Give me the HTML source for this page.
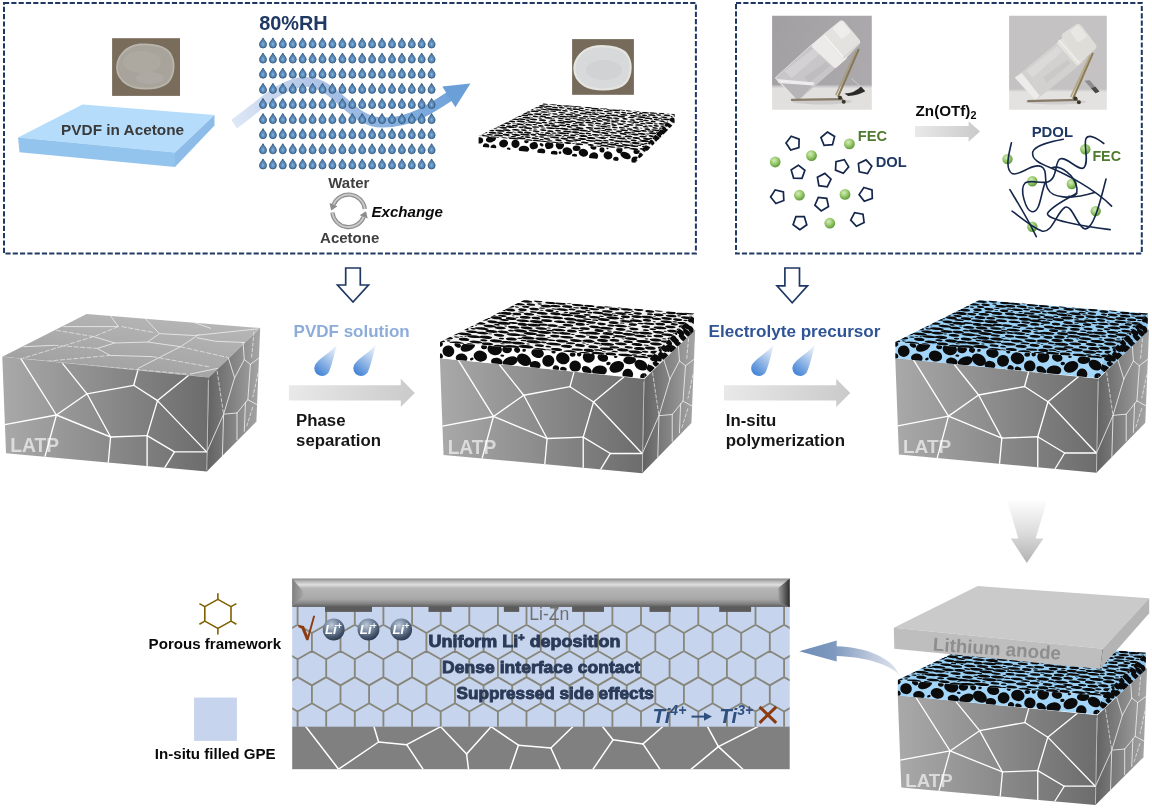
<!DOCTYPE html>
<html><head><meta charset="utf-8"><title>LATP interface schematic</title>
<style>
html,body{margin:0;padding:0;background:#fff;}
body{width:1152px;height:808px;overflow:hidden;}
svg{display:block;will-change:transform;}
text{font-family:"Liberation Sans",sans-serif;}
.b{font-weight:bold;}
.i{font-style:italic;}
</style></head><body>
<svg width="1152" height="808" viewBox="0 0 1152 808">
<defs>
<filter id="fB" x="-5%" y="-5%" width="110%" height="110%"><feGaussianBlur stdDeviation="0.7"/></filter>
<filter id="fB2" x="-5%" y="-5%" width="110%" height="110%"><feGaussianBlur stdDeviation="1.1"/></filter>
<linearGradient id="gFront" x1="0" y1="0" x2="1" y2="0"><stop offset="0" stop-color="#a9a9a9"/><stop offset="0.45" stop-color="#8e8e8e"/><stop offset="1" stop-color="#6c6c6c"/></linearGradient>
<linearGradient id="gTop" x1="0" y1="1" x2="0.6" y2="0"><stop offset="0" stop-color="#9c9c9c"/><stop offset="1" stop-color="#b6b6b6"/></linearGradient>
<linearGradient id="gRight" x1="0" y1="0" x2="1" y2="0"><stop offset="0" stop-color="#626262"/><stop offset="0.5" stop-color="#848484"/><stop offset="1" stop-color="#a6a6a6"/></linearGradient>
<linearGradient id="gArr" x1="0" y1="0" x2="1" y2="0"><stop offset="0" stop-color="#e9e9e9"/><stop offset="1" stop-color="#cacaca"/></linearGradient>
<linearGradient id="gWave" gradientUnits="userSpaceOnUse" x1="232" y1="0" x2="470" y2="0"><stop offset="0" stop-color="#dfe8f6"/><stop offset="0.35" stop-color="#aec3e6"/><stop offset="0.7" stop-color="#85afe0"/><stop offset="1" stop-color="#6a9fd8"/></linearGradient>
<linearGradient id="gDrop" x1="0.85" y1="0" x2="0.25" y2="1"><stop offset="0" stop-color="#eef4fb"/><stop offset="0.35" stop-color="#b9d0ee"/><stop offset="1" stop-color="#4484d6"/></linearGradient>
<radialGradient id="gGreen" cx="0.4" cy="0.35" r="0.65"><stop offset="0" stop-color="#d4ecbc"/><stop offset="0.5" stop-color="#9ccc70"/><stop offset="1" stop-color="#5f9a3a"/></radialGradient>
<radialGradient id="gLi" cx="0.4" cy="0.3" r="0.75"><stop offset="0" stop-color="#c0cbda"/><stop offset="0.4" stop-color="#7a8ca4"/><stop offset="0.8" stop-color="#3d4d63"/><stop offset="1" stop-color="#27364a"/></radialGradient>
<radialGradient id="gSmall" cx="0.5" cy="0.62" r="0.5"><stop offset="0" stop-color="#8db9e0"/><stop offset="0.45" stop-color="#5b8dbe"/><stop offset="1" stop-color="#4a7aad"/></radialGradient>
<linearGradient id="gBar" x1="0" y1="0" x2="0" y2="1"><stop offset="0" stop-color="#888888"/><stop offset="0.1" stop-color="#b6b6b6"/><stop offset="0.22" stop-color="#e0e0e0"/><stop offset="0.34" stop-color="#b6b6b6"/><stop offset="0.72" stop-color="#a8a8a8"/><stop offset="0.88" stop-color="#858585"/><stop offset="1" stop-color="#5c5c5c"/></linearGradient>
<linearGradient id="gDown" x1="0" y1="0" x2="0" y2="1"><stop offset="0" stop-color="#ffffff"/><stop offset="0.5" stop-color="#dedede"/><stop offset="1" stop-color="#b2b2b2"/></linearGradient>
<linearGradient id="gCurve" gradientUnits="userSpaceOnUse" x1="799" y1="0" x2="899" y2="0"><stop offset="0" stop-color="#6d8cb6"/><stop offset="0.35" stop-color="#7e99bf"/><stop offset="0.7" stop-color="#b8c5da"/><stop offset="1" stop-color="#dfe5ee"/></linearGradient>
<linearGradient id="gSlabTop" x1="0" y1="1" x2="0.5" y2="0"><stop offset="0" stop-color="#c9c9c9"/><stop offset="1" stop-color="#d0d0d0"/></linearGradient>
</defs>
<rect x="4" y="2.9" width="691.9" height="250.7" fill="none" stroke="#1f3864" stroke-width="2" stroke-dasharray="5.2 2.1"/>
<rect x="112.1" y="38.2" width="67.9" height="57.7" fill="#796c5b"/>
<g filter="url(#fB)"><path d="M117,67.5 C117,57.6 125,45.9 139.8,44.5 C152.3,43.6 167.2,45.9 171.2,55.3 C175.7,64.3 174,79.2 164.9,84.6 C155.8,90 136.4,90 127.3,84.6 C120.4,80.1 117,74.7 117,67.5Z" fill="#a8a49c" stroke="#b9b5ac" stroke-width="1.8"/><ellipse cx="142" cy="62" rx="19" ry="11" fill="#b1ada5" opacity="0.6"/><ellipse cx="150" cy="78" rx="14" ry="6" fill="#b4b0a9" opacity="0.5"/></g>
<polygon points="18,137.5 82.5,104.5 214.5,115 175,152.5" fill="#b5dcfb"/>
<polygon points="18,137.5 175,152.5 175,167 19.5,152.3" fill="#93c4ee"/>
<polygon points="175,152.5 214.5,115 214.5,125.5 175,167" fill="#8ebce9"/>
<text x="61.1" y="135" font-size="15.35" fill="#3a3a3a" class="b" >PVDF in Acetone</text>
<text x="259.2" y="29.8" font-size="19.9" fill="#1f3864" class="b" >80%RH</text>
<path d="M234,124 C258,108 280,82 306,82 C336,82 350,122 382,122.6 C410,123 432,108 450,96" fill="none" stroke="url(#gWave)" stroke-width="10"/>
<polygon points="470.4,83.6 442.3,86.6 455.4,107.2" fill="#6a9fd8"/>
<defs><path id="sd" d="M0,-6.3 C0.9,-4 3.5,-2.4 3.5,0.3 A3.5,3.5 0 1 1 -3.5,0.3 C-3.5,-2.4 -0.9,-4 0,-6.3Z" fill="url(#gSmall)" stroke="#30506f" stroke-width="0.8"/></defs>
<g><use href="#sd" x="263" y="44.2"/><use href="#sd" x="272.9" y="44.2"/><use href="#sd" x="282.8" y="44.2"/><use href="#sd" x="292.8" y="44.2"/><use href="#sd" x="302.7" y="44.2"/><use href="#sd" x="312.6" y="44.2"/><use href="#sd" x="322.5" y="44.2"/><use href="#sd" x="332.4" y="44.2"/><use href="#sd" x="342.4" y="44.2"/><use href="#sd" x="352.3" y="44.2"/><use href="#sd" x="362.2" y="44.2"/><use href="#sd" x="372.1" y="44.2"/><use href="#sd" x="382" y="44.2"/><use href="#sd" x="392" y="44.2"/><use href="#sd" x="401.9" y="44.2"/><use href="#sd" x="411.8" y="44.2"/><use href="#sd" x="421.7" y="44.2"/><use href="#sd" x="431.6" y="44.2"/><use href="#sd" x="263" y="59.3"/><use href="#sd" x="272.9" y="59.3"/><use href="#sd" x="282.8" y="59.3"/><use href="#sd" x="292.8" y="59.3"/><use href="#sd" x="302.7" y="59.3"/><use href="#sd" x="312.6" y="59.3"/><use href="#sd" x="322.5" y="59.3"/><use href="#sd" x="332.4" y="59.3"/><use href="#sd" x="342.4" y="59.3"/><use href="#sd" x="352.3" y="59.3"/><use href="#sd" x="362.2" y="59.3"/><use href="#sd" x="372.1" y="59.3"/><use href="#sd" x="382" y="59.3"/><use href="#sd" x="392" y="59.3"/><use href="#sd" x="401.9" y="59.3"/><use href="#sd" x="411.8" y="59.3"/><use href="#sd" x="421.7" y="59.3"/><use href="#sd" x="431.6" y="59.3"/><use href="#sd" x="263" y="74.4"/><use href="#sd" x="272.9" y="74.4"/><use href="#sd" x="282.8" y="74.4"/><use href="#sd" x="292.8" y="74.4"/><use href="#sd" x="302.7" y="74.4"/><use href="#sd" x="312.6" y="74.4"/><use href="#sd" x="322.5" y="74.4"/><use href="#sd" x="332.4" y="74.4"/><use href="#sd" x="342.4" y="74.4"/><use href="#sd" x="352.3" y="74.4"/><use href="#sd" x="362.2" y="74.4"/><use href="#sd" x="372.1" y="74.4"/><use href="#sd" x="382" y="74.4"/><use href="#sd" x="392" y="74.4"/><use href="#sd" x="401.9" y="74.4"/><use href="#sd" x="411.8" y="74.4"/><use href="#sd" x="421.7" y="74.4"/><use href="#sd" x="431.6" y="74.4"/><use href="#sd" x="263" y="89.6"/><use href="#sd" x="272.9" y="89.6"/><use href="#sd" x="282.8" y="89.6"/><use href="#sd" x="292.8" y="89.6"/><use href="#sd" x="302.7" y="89.6"/><use href="#sd" x="312.6" y="89.6"/><use href="#sd" x="322.5" y="89.6"/><use href="#sd" x="332.4" y="89.6"/><use href="#sd" x="342.4" y="89.6"/><use href="#sd" x="352.3" y="89.6"/><use href="#sd" x="362.2" y="89.6"/><use href="#sd" x="372.1" y="89.6"/><use href="#sd" x="382" y="89.6"/><use href="#sd" x="392" y="89.6"/><use href="#sd" x="401.9" y="89.6"/><use href="#sd" x="411.8" y="89.6"/><use href="#sd" x="421.7" y="89.6"/><use href="#sd" x="431.6" y="89.6"/><use href="#sd" x="263" y="104.7"/><use href="#sd" x="272.9" y="104.7"/><use href="#sd" x="282.8" y="104.7"/><use href="#sd" x="292.8" y="104.7"/><use href="#sd" x="302.7" y="104.7"/><use href="#sd" x="312.6" y="104.7"/><use href="#sd" x="322.5" y="104.7"/><use href="#sd" x="332.4" y="104.7"/><use href="#sd" x="342.4" y="104.7"/><use href="#sd" x="352.3" y="104.7"/><use href="#sd" x="362.2" y="104.7"/><use href="#sd" x="372.1" y="104.7"/><use href="#sd" x="382" y="104.7"/><use href="#sd" x="392" y="104.7"/><use href="#sd" x="401.9" y="104.7"/><use href="#sd" x="411.8" y="104.7"/><use href="#sd" x="421.7" y="104.7"/><use href="#sd" x="431.6" y="104.7"/><use href="#sd" x="263" y="119.8"/><use href="#sd" x="272.9" y="119.8"/><use href="#sd" x="282.8" y="119.8"/><use href="#sd" x="292.8" y="119.8"/><use href="#sd" x="302.7" y="119.8"/><use href="#sd" x="312.6" y="119.8"/><use href="#sd" x="322.5" y="119.8"/><use href="#sd" x="332.4" y="119.8"/><use href="#sd" x="342.4" y="119.8"/><use href="#sd" x="352.3" y="119.8"/><use href="#sd" x="362.2" y="119.8"/><use href="#sd" x="372.1" y="119.8"/><use href="#sd" x="382" y="119.8"/><use href="#sd" x="392" y="119.8"/><use href="#sd" x="401.9" y="119.8"/><use href="#sd" x="411.8" y="119.8"/><use href="#sd" x="421.7" y="119.8"/><use href="#sd" x="431.6" y="119.8"/><use href="#sd" x="263" y="134.9"/><use href="#sd" x="272.9" y="134.9"/><use href="#sd" x="282.8" y="134.9"/><use href="#sd" x="292.8" y="134.9"/><use href="#sd" x="302.7" y="134.9"/><use href="#sd" x="312.6" y="134.9"/><use href="#sd" x="322.5" y="134.9"/><use href="#sd" x="332.4" y="134.9"/><use href="#sd" x="342.4" y="134.9"/><use href="#sd" x="352.3" y="134.9"/><use href="#sd" x="362.2" y="134.9"/><use href="#sd" x="372.1" y="134.9"/><use href="#sd" x="382" y="134.9"/><use href="#sd" x="392" y="134.9"/><use href="#sd" x="401.9" y="134.9"/><use href="#sd" x="411.8" y="134.9"/><use href="#sd" x="421.7" y="134.9"/><use href="#sd" x="431.6" y="134.9"/><use href="#sd" x="263" y="150"/><use href="#sd" x="272.9" y="150"/><use href="#sd" x="282.8" y="150"/><use href="#sd" x="292.8" y="150"/><use href="#sd" x="302.7" y="150"/><use href="#sd" x="312.6" y="150"/><use href="#sd" x="322.5" y="150"/><use href="#sd" x="332.4" y="150"/><use href="#sd" x="342.4" y="150"/><use href="#sd" x="352.3" y="150"/><use href="#sd" x="362.2" y="150"/><use href="#sd" x="372.1" y="150"/><use href="#sd" x="382" y="150"/><use href="#sd" x="392" y="150"/><use href="#sd" x="401.9" y="150"/><use href="#sd" x="411.8" y="150"/><use href="#sd" x="421.7" y="150"/><use href="#sd" x="431.6" y="150"/><use href="#sd" x="263" y="165.2"/><use href="#sd" x="272.9" y="165.2"/><use href="#sd" x="282.8" y="165.2"/><use href="#sd" x="292.8" y="165.2"/><use href="#sd" x="302.7" y="165.2"/><use href="#sd" x="312.6" y="165.2"/><use href="#sd" x="322.5" y="165.2"/><use href="#sd" x="332.4" y="165.2"/><use href="#sd" x="342.4" y="165.2"/><use href="#sd" x="352.3" y="165.2"/><use href="#sd" x="362.2" y="165.2"/><use href="#sd" x="372.1" y="165.2"/><use href="#sd" x="382" y="165.2"/><use href="#sd" x="392" y="165.2"/><use href="#sd" x="401.9" y="165.2"/><use href="#sd" x="411.8" y="165.2"/><use href="#sd" x="421.7" y="165.2"/><use href="#sd" x="431.6" y="165.2"/></g>
<text x="328.2" y="187.5" font-size="15" fill="#404040" class="b" >Water</text>
<text x="320.1" y="242.5" font-size="15" fill="#404040" class="b" >Acetone</text>
<text x="371.5" y="216.7" font-size="15.1" fill="#0a0a0a" class="b i" >Exchange</text>
<g fill="none" stroke="#8d8d8d" stroke-width="4.2"><path d="M364.8,209.1 A16.3,16.3 0 0 0 333.5,204.7"/><path d="M332.4,212.5 A16.3,16.3 0 0 0 363.7,216.9"/></g><g fill="none" stroke="#c9c9c9" stroke-width="1.9"><path d="M364.8,209.1 A16.3,16.3 0 0 0 333.5,204.7"/><path d="M332.4,212.5 A16.3,16.3 0 0 0 363.7,216.9"/></g><polygon points="329.5,203.1 337.5,206.3 331.2,210.4" fill="#8d8d8d"/><polygon points="367.7,218.5 359.7,215.3 366,211.2" fill="#8d8d8d"/>
<rect x="572.1" y="39.1" width="61.8" height="55.7" fill="#766a5a"/>
<g filter="url(#fB)"><path d="M574.4,68.8 C574.4,59.1 582.3,47.7 597,46.3 C609.5,45.5 624.2,47.7 628.2,56.9 C632.7,65.7 631,80.2 621.9,85.5 C612.9,90.8 593.6,90.8 584.6,85.5 C577.8,81.1 574.4,75.8 574.4,68.8Z" fill="#d8d9da" stroke="#e4e4e0" stroke-width="2.2"/><ellipse cx="604" cy="70" rx="18" ry="10" fill="#cdcfd1" opacity="0.7"/></g>
<defs><clipPath id="cST"><polygon points="478.6,136.1 640.9,150.4 674.7,114.1 543.5,103.6" /></clipPath><clipPath id="cSF"><polygon points="478.6,136.1 640.9,150.4 635.2,162.8 478.6,146.6" /></clipPath><clipPath id="cSR"><polygon points="640.9,150.4 674.7,114.1 674.4,123.6 635.2,162.8" /></clipPath></defs><polygon points="478.6,136.1 640.9,150.4 674.7,114.1 543.5,103.6" fill="#f4f4f4"/><polygon points="478.6,136.1 640.9,150.4 635.2,162.8 478.6,146.6" fill="#ffffff"/><polygon points="640.9,150.4 674.7,114.1 674.4,123.6 635.2,162.8" fill="#f0f0f0"/><g clip-path="url(#cST)"><g id="pST" fill="#0b0b0b" transform="matrix(0.9961 0.0878 0 -0.3200 478.6 136.1)"><ellipse cx="89.1" cy="68.7" rx="4.4" ry="2.6"/><ellipse cx="36.4" cy="62.8" rx="4.3" ry="2.5"/><ellipse cx="156.1" cy="11.6" rx="4.0" ry="2.8"/><ellipse cx="128.7" cy="75.6" rx="3.7" ry="2.4"/><ellipse cx="37.4" cy="29.7" rx="3.8" ry="2.7"/><ellipse cx="91.3" cy="54.1" rx="2.9" ry="2.9"/><ellipse cx="102.2" cy="78.6" rx="4.3" ry="2.4"/><ellipse cx="130.4" cy="56.1" rx="4.0" ry="2.7"/><ellipse cx="196.4" cy="122.2" rx="3.2" ry="2.4"/><ellipse cx="139.3" cy="38.7" rx="4.2" ry="2.7"/><ellipse cx="56.9" cy="8.6" rx="3.8" ry="2.9"/><ellipse cx="78.8" cy="103.9" rx="4.3" ry="2.7"/><ellipse cx="188.6" cy="104" rx="3.9" ry="2.5"/><ellipse cx="123.9" cy="95.6" rx="4.2" ry="2.8"/><ellipse cx="19.9" cy="7.4" rx="4.8" ry="2.7"/><ellipse cx="126.7" cy="14.3" rx="3.9" ry="2.7"/><ellipse cx="158.2" cy="37.3" rx="3.8" ry="3.0"/><ellipse cx="41.5" cy="48.4" rx="3.8" ry="2.6"/><ellipse cx="64.8" cy="36.4" rx="3.3" ry="2.6"/><ellipse cx="118.4" cy="45.6" rx="4.4" ry="3.0"/><ellipse cx="170.6" cy="22.4" rx="4.7" ry="2.5"/><ellipse cx="178.8" cy="100.4" rx="3.1" ry="2.3"/><ellipse cx="117.4" cy="36" rx="3.8" ry="2.6"/><ellipse cx="141.8" cy="8.4" rx="4.0" ry="2.9"/><ellipse cx="110.1" cy="104.6" rx="3.7" ry="2.5"/><ellipse cx="11.9" cy="21.6" rx="4.0" ry="2.6"/><ellipse cx="112.6" cy="16.2" rx="4.9" ry="2.8"/><ellipse cx="175.4" cy="120.3" rx="3.9" ry="2.3"/><ellipse cx="136.1" cy="71.7" rx="2.9" ry="2.9"/><ellipse cx="6.9" cy="2.2" rx="4.1" ry="2.7"/><ellipse cx="138" cy="118.2" rx="4.1" ry="2.6"/><ellipse cx="107.5" cy="90.5" rx="2.9" ry="2.8"/><ellipse cx="145.1" cy="86.4" rx="2.9" ry="2.4"/><ellipse cx="177.3" cy="106.9" rx="2.9" ry="2.7"/><ellipse cx="155.6" cy="106" rx="3.6" ry="2.5"/><ellipse cx="119.9" cy="9.8" rx="4.4" ry="2.8"/><ellipse cx="76.5" cy="90.2" rx="2.8" ry="2.3"/><ellipse cx="86.7" cy="102.9" rx="3.0" ry="2.5"/><ellipse cx="94.7" cy="28.3" rx="3.1" ry="2.5"/><ellipse cx="50.4" cy="1.4" rx="3.5" ry="2.6"/><ellipse cx="133.5" cy="24.9" rx="3.1" ry="2.6"/><ellipse cx="178.3" cy="81" rx="2.9" ry="2.5"/><ellipse cx="175.5" cy="40.1" rx="4.5" ry="2.9"/><ellipse cx="97.7" cy="102.7" rx="2.6" ry="2.3"/><ellipse cx="33.3" cy="55.3" rx="3.5" ry="2.7"/><ellipse cx="97.2" cy="38.7" rx="3.8" ry="2.8"/><ellipse cx="155.8" cy="2.3" rx="4.5" ry="3.0"/><ellipse cx="89.5" cy="3" rx="3.6" ry="2.8"/><ellipse cx="46.7" cy="17.3" rx="5.0" ry="2.9"/><ellipse cx="35.2" cy="1.3" rx="4.9" ry="3.2"/><ellipse cx="140.6" cy="22" rx="4.6" ry="2.9"/><ellipse cx="68.1" cy="85.6" rx="4.0" ry="2.4"/><ellipse cx="183.6" cy="88.7" rx="3.0" ry="2.5"/><ellipse cx="89.3" cy="76.8" rx="3.1" ry="2.4"/><ellipse cx="74.2" cy="69.8" rx="3.0" ry="2.5"/><ellipse cx="156.9" cy="115.9" rx="2.6" ry="2.2"/><ellipse cx="161.1" cy="78.8" rx="4.0" ry="2.3"/><ellipse cx="63.1" cy="111.7" rx="3.7" ry="2.6"/><ellipse cx="68.6" cy="10.2" rx="3.4" ry="2.9"/><ellipse cx="157.5" cy="21.2" rx="4.2" ry="3.2"/><ellipse cx="125.8" cy="64.2" rx="3.9" ry="2.5"/><ellipse cx="110.2" cy="38.3" rx="3.0" ry="2.6"/><ellipse cx="166.4" cy="110.5" rx="2.8" ry="2.6"/><ellipse cx="167.5" cy="118.9" rx="3.9" ry="2.2"/><ellipse cx="112.8" cy="24.7" rx="4.5" ry="3.1"/><ellipse cx="157.7" cy="69.1" rx="3.2" ry="2.6"/><ellipse cx="81.5" cy="117.4" rx="2.9" ry="2.4"/><ellipse cx="53" cy="58.1" rx="4.2" ry="2.5"/><ellipse cx="121.6" cy="113.6" rx="3.4" ry="2.5"/><ellipse cx="44.7" cy="84.3" rx="4.2" ry="2.8"/><ellipse cx="70" cy="76.1" rx="4.3" ry="2.6"/><ellipse cx="49.3" cy="24.3" rx="3.7" ry="3.1"/><ellipse cx="86" cy="46.1" rx="4.5" ry="2.9"/><ellipse cx="104.2" cy="19.6" rx="4.2" ry="3.2"/><ellipse cx="167.6" cy="75.1" rx="3.0" ry="2.4"/><ellipse cx="143" cy="31.9" rx="4.4" ry="2.7"/><ellipse cx="163.8" cy="51.8" rx="4.0" ry="2.8"/><ellipse cx="99.5" cy="93.1" rx="3.7" ry="2.4"/><ellipse cx="101.3" cy="69.8" rx="4.5" ry="2.7"/><ellipse cx="195" cy="113.8" rx="2.6" ry="2.3"/><ellipse cx="150.5" cy="40.1" rx="3.9" ry="3.0"/><ellipse cx="101.4" cy="52.8" rx="4.0" ry="3.0"/><ellipse cx="79.8" cy="24" rx="3.6" ry="2.6"/><ellipse cx="100.9" cy="1.9" rx="4.0" ry="3.2"/><ellipse cx="157.8" cy="86.5" rx="3.6" ry="2.8"/><ellipse cx="99.3" cy="120.6" rx="3.9" ry="2.6"/><ellipse cx="153.2" cy="100" rx="3.5" ry="2.2"/><ellipse cx="186" cy="81.8" rx="3.7" ry="2.4"/><ellipse cx="138" cy="93.5" rx="3.3" ry="2.4"/><ellipse cx="50.5" cy="49.3" rx="3.5" ry="2.7"/><ellipse cx="92.9" cy="20.8" rx="4.3" ry="3.2"/><ellipse cx="82.8" cy="64.7" rx="4.3" ry="2.9"/><ellipse cx="72" cy="35.1" rx="3.3" ry="2.9"/><ellipse cx="76.8" cy="110.2" rx="3.2" ry="2.4"/><ellipse cx="103" cy="115" rx="2.7" ry="2.4"/><ellipse cx="92.2" cy="120.1" rx="4.1" ry="2.6"/><ellipse cx="111.2" cy="72.6" rx="4.2" ry="2.4"/><ellipse cx="148.3" cy="23.3" rx="4.6" ry="2.8"/><ellipse cx="106.6" cy="8.9" rx="3.8" ry="2.9"/><ellipse cx="73.5" cy="58.7" rx="3.4" ry="2.5"/><ellipse cx="83.5" cy="31.7" rx="4.7" ry="2.9"/><ellipse cx="64.1" cy="67.3" rx="3.6" ry="2.7"/><ellipse cx="180.8" cy="115.4" rx="2.7" ry="2.2"/><ellipse cx="62.5" cy="49" rx="2.9" ry="2.6"/><ellipse cx="72" cy="44.6" rx="4.5" ry="2.5"/><ellipse cx="66.5" cy="118.8" rx="3.0" ry="2.6"/><ellipse cx="115" cy="111.6" rx="2.9" ry="2.4"/><ellipse cx="21.4" cy="22.7" rx="4.7" ry="3.0"/><ellipse cx="103.9" cy="63.3" rx="3.5" ry="2.6"/><ellipse cx="31" cy="19.3" rx="3.6" ry="2.8"/><ellipse cx="125.4" cy="121.9" rx="4.1" ry="2.4"/><ellipse cx="168.8" cy="37.3" rx="3.8" ry="3.1"/><ellipse cx="60.2" cy="57.3" rx="3.6" ry="2.5"/><ellipse cx="111.1" cy="56.2" rx="3.8" ry="2.5"/><ellipse cx="77.2" cy="81.8" rx="4.3" ry="2.3"/><ellipse cx="65.3" cy="101.5" rx="3.3" ry="2.2"/><ellipse cx="27.7" cy="11.6" rx="3.5" ry="3.1"/><ellipse cx="80.1" cy="8.9" rx="3.4" ry="3.1"/><ellipse cx="120.4" cy="19.4" rx="4.3" ry="2.6"/><ellipse cx="177.8" cy="67.3" rx="4.5" ry="2.4"/><ellipse cx="48.2" cy="70.8" rx="4.2" ry="2.9"/><ellipse cx="129.6" cy="37.8" rx="3.7" ry="2.7"/><ellipse cx="145.2" cy="46.8" rx="3.6" ry="2.9"/><ellipse cx="126.3" cy="4.6" rx="4.3" ry="2.7"/><ellipse cx="136.8" cy="64.6" rx="3.0" ry="2.5"/><ellipse cx="131.1" cy="106.4" rx="2.7" ry="2.2"/><ellipse cx="165" cy="43.5" rx="3.8" ry="2.5"/><ellipse cx="171.2" cy="87.5" rx="3.9" ry="2.4"/><ellipse cx="56.1" cy="92.8" rx="4.3" ry="2.3"/><ellipse cx="54.9" cy="67.3" rx="3.9" ry="2.6"/><ellipse cx="90.9" cy="92.1" rx="3.9" ry="2.3"/><ellipse cx="109.5" cy="79.2" rx="3.1" ry="2.8"/><ellipse cx="51.8" cy="98" rx="3.4" ry="2.4"/><ellipse cx="155.8" cy="29.2" rx="3.1" ry="2.9"/><ellipse cx="136" cy="102" rx="4.2" ry="2.6"/><ellipse cx="27.9" cy="48.2" rx="4.6" ry="2.8"/><ellipse cx="45.3" cy="31.1" rx="3.0" ry="2.9"/><ellipse cx="174.5" cy="56.8" rx="3.8" ry="3.0"/><ellipse cx="42.2" cy="57.4" rx="4.3" ry="2.8"/><ellipse cx="151.7" cy="63.7" rx="3.1" ry="2.6"/><ellipse cx="42.5" cy="5" rx="4.6" ry="3.0"/><ellipse cx="131.2" cy="117.2" rx="3.5" ry="2.2"/><ellipse cx="46.2" cy="77.6" rx="3.7" ry="2.4"/><ellipse cx="55.1" cy="19.5" rx="3.1" ry="3.0"/><ellipse cx="51.6" cy="82" rx="3.4" ry="2.4"/><ellipse cx="151.9" cy="77" rx="3.6" ry="2.4"/><ellipse cx="105.1" cy="29.1" rx="4.2" ry="3.1"/><ellipse cx="64" cy="21.8" rx="4.5" ry="3.1"/><ellipse cx="156.8" cy="48.1" rx="4.1" ry="3.0"/><ellipse cx="65.7" cy="93.2" rx="3.4" ry="2.3"/><ellipse cx="82.5" cy="77.5" rx="3.1" ry="2.3"/><ellipse cx="183.7" cy="121.4" rx="2.9" ry="2.2"/><ellipse cx="23.7" cy="40.5" rx="3.2" ry="2.9"/><ellipse cx="150.7" cy="120.4" rx="3.1" ry="2.3"/><ellipse cx="129.3" cy="99.5" rx="2.8" ry="2.6"/><ellipse cx="69" cy="52.9" rx="3.3" ry="2.9"/><ellipse cx="164.9" cy="84.7" rx="2.9" ry="2.3"/><ellipse cx="170.3" cy="102.4" rx="4.0" ry="2.5"/><ellipse cx="185.3" cy="74.9" rx="4.2" ry="2.7"/><ellipse cx="56.4" cy="104.9" rx="3.8" ry="2.3"/><ellipse cx="136.8" cy="82.5" rx="3.8" ry="2.3"/><ellipse cx="128" cy="86" rx="4.2" ry="2.8"/><ellipse cx="185.9" cy="110" rx="3.6" ry="2.2"/><ellipse cx="167.5" cy="12.8" rx="3.5" ry="2.9"/><ellipse cx="5.6" cy="13.5" rx="3.3" ry="3.2"/><ellipse cx="116.8" cy="117.9" rx="4.0" ry="2.4"/><ellipse cx="119.9" cy="72.3" rx="3.2" ry="2.6"/><ellipse cx="133.8" cy="10.5" rx="5.0" ry="2.9"/><ellipse cx="161.3" cy="96.8" rx="3.9" ry="2.5"/><ellipse cx="148.2" cy="71.2" rx="3.0" ry="2.5"/><ellipse cx="14.1" cy="14.2" rx="3.9" ry="3.0"/><ellipse cx="135.7" cy="47.6" rx="3.6" ry="2.6"/><ellipse cx="141" cy="53.1" rx="3.0" ry="3.0"/><ellipse cx="110.1" cy="119.8" rx="3.9" ry="2.4"/><ellipse cx="148.3" cy="12.6" rx="4.5" ry="2.8"/><ellipse cx="57.7" cy="31" rx="3.5" ry="2.5"/><ellipse cx="114.2" cy="93" rx="3.7" ry="2.2"/><ellipse cx="70.2" cy="111.8" rx="4.0" ry="2.2"/><ellipse cx="76.2" cy="16.6" rx="4.8" ry="2.8"/><ellipse cx="146" cy="58.4" rx="4.0" ry="2.5"/><ellipse cx="36.4" cy="42.7" rx="3.3" ry="2.9"/><ellipse cx="96.4" cy="59.2" rx="3.8" ry="2.7"/><ellipse cx="165.6" cy="61.7" rx="3.4" ry="2.7"/><ellipse cx="96.8" cy="47.2" rx="4.7" ry="3.0"/><ellipse cx="85.2" cy="84.2" rx="4.2" ry="2.6"/><ellipse cx="86.1" cy="15.7" rx="3.9" ry="3.1"/><ellipse cx="89.2" cy="38.7" rx="4.4" ry="2.7"/><ellipse cx="119.3" cy="56.5" rx="3.8" ry="2.4"/><ellipse cx="59.1" cy="84.9" rx="3.8" ry="2.6"/><ellipse cx="91.3" cy="110.5" rx="2.8" ry="2.7"/><ellipse cx="37.6" cy="13.8" rx="4.4" ry="2.9"/><ellipse cx="105.4" cy="46.1" rx="4.4" ry="2.8"/><ellipse cx="139.1" cy="111.5" rx="3.4" ry="2.2"/><ellipse cx="145.8" cy="106.3" rx="3.7" ry="2.4"/><ellipse cx="66.8" cy="0.1" rx="4.1" ry="3.0"/><ellipse cx="49.5" cy="38.7" rx="4.3" ry="2.9"/><ellipse cx="117.1" cy="100.6" rx="3.7" ry="2.7"/><ellipse cx="165.5" cy="5.1" rx="3.9" ry="3.2"/><ellipse cx="147" cy="94.2" rx="2.8" ry="2.7"/><ellipse cx="189" cy="116.6" rx="3.5" ry="2.4"/><ellipse cx="167.9" cy="94.8" rx="3.1" ry="2.3"/><ellipse cx="121.3" cy="80.8" rx="3.4" ry="2.6"/><ellipse cx="173.5" cy="47.8" rx="2.9" ry="2.8"/><ellipse cx="173.7" cy="113.4" rx="3.9" ry="2.5"/><ellipse cx="83.7" cy="96.2" rx="3.8" ry="2.3"/><ellipse cx="123.7" cy="104.9" rx="3.1" ry="2.2"/><ellipse cx="166.4" cy="30" rx="4.7" ry="3.1"/><ellipse cx="77.3" cy="0.2" rx="4.0" ry="2.7"/><ellipse cx="124" cy="28.2" rx="4.1" ry="3.0"/><ellipse cx="40.2" cy="73" rx="3.1" ry="2.4"/><ellipse cx="58.7" cy="1" rx="4.6" ry="3.0"/><ellipse cx="57.3" cy="77.1" rx="3.0" ry="2.5"/><ellipse cx="105.3" cy="99.5" rx="3.9" ry="2.5"/><ellipse cx="71.8" cy="104" rx="4.2" ry="2.7"/><ellipse cx="24.9" cy="33" rx="3.7" ry="3.0"/><ellipse cx="41.7" cy="23.6" rx="3.0" ry="2.9"/><ellipse cx="75" cy="119.5" rx="4.0" ry="2.2"/><ellipse cx="116.1" cy="85.5" rx="4.0" ry="2.5"/><ellipse cx="112.6" cy="3.1" rx="3.1" ry="2.9"/><ellipse cx="76.9" cy="52.5" rx="4.3" ry="2.6"/><ellipse cx="112.4" cy="65.4" rx="2.9" ry="2.5"/><ellipse cx="126.5" cy="44.2" rx="3.7" ry="2.8"/><ellipse cx="141.4" cy="0.3" rx="3.2" ry="3.0"/><ellipse cx="83.5" cy="111.5" rx="3.0" ry="2.4"/><ellipse cx="163.4" cy="103.9" rx="4.1" ry="2.6"/><ellipse cx="69.4" cy="28.2" rx="3.0" ry="2.9"/><ellipse cx="131.2" cy="93" rx="3.5" ry="2.5"/><ellipse cx="158.6" cy="59.1" rx="4.4" ry="2.8"/><ellipse cx="25.9" cy="0.5" rx="3.2" ry="3.0"/><ellipse cx="16" cy="0.3" rx="4.8" ry="2.7"/><ellipse cx="57.1" cy="44.1" rx="3.7" ry="2.4"/><ellipse cx="189" cy="92.7" rx="3.8" ry="2.3"/><ellipse cx="28.2" cy="26.1" rx="4.0" ry="2.8"/><ellipse cx="95.6" cy="87.1" rx="4.0" ry="2.4"/><ellipse cx="145.6" cy="113.2" rx="2.6" ry="2.3"/><ellipse cx="97.9" cy="110.8" rx="4.0" ry="2.4"/><ellipse cx="79.7" cy="39" rx="3.1" ry="2.6"/><ellipse cx="143.9" cy="65.7" rx="3.1" ry="2.6"/><ellipse cx="143.2" cy="99.9" rx="4.0" ry="2.7"/><ellipse cx="83.9" cy="56.5" rx="4.1" ry="2.8"/><ellipse cx="142.3" cy="76.4" rx="3.3" ry="2.7"/><ellipse cx="91.4" cy="10.3" rx="4.1" ry="2.8"/><ellipse cx="43.4" cy="64.7" rx="3.8" ry="2.4"/><ellipse cx="175.3" cy="93.4" rx="2.6" ry="2.4"/><ellipse cx="103.9" cy="108.1" rx="3.7" ry="2.2"/><ellipse cx="98.4" cy="14.4" rx="4.4" ry="2.6"/><ellipse cx="158.3" cy="122.3" rx="3.0" ry="2.3"/><ellipse cx="143.8" cy="121.5" rx="3.3" ry="2.3"/><ellipse cx="49.1" cy="89.2" rx="2.9" ry="2.6"/><ellipse cx="151.7" cy="112.4" rx="3.5" ry="2.2"/><ellipse cx="31.7" cy="37.1" rx="4.4" ry="2.9"/><ellipse cx="66.2" cy="60.6" rx="3.0" ry="2.6"/><ellipse cx="181.2" cy="61" rx="3.3" ry="2.5"/><ellipse cx="17.4" cy="34.1" rx="4.4" ry="2.4"/><ellipse cx="49.2" cy="10.3" rx="3.2" ry="2.5"/><ellipse cx="169.3" cy="68.2" rx="2.9" ry="2.7"/><ellipse cx="177.2" cy="74" rx="2.8" ry="2.5"/><ellipse cx="64.2" cy="79.1" rx="3.5" ry="2.5"/><ellipse cx="149.6" cy="52" rx="3.8" ry="2.5"/><ellipse cx="104" cy="85.1" rx="3.8" ry="2.4"/><ellipse cx="121" cy="89.8" rx="3.5" ry="2.0"/><ellipse cx="60.2" cy="97.5" rx="2.8" ry="2.0"/><ellipse cx="154.2" cy="92.3" rx="2.7" ry="2.4"/><ellipse cx="94.6" cy="72.3" rx="3.2" ry="2.4"/><ellipse cx="42.6" cy="39" rx="2.7" ry="2.5"/><ellipse cx="21.4" cy="15.1" rx="3.2" ry="2.7"/><ellipse cx="149" cy="5.5" rx="3.4" ry="2.4"/><ellipse cx="89.4" cy="60.9" rx="2.5" ry="2.2"/><ellipse cx="74.6" cy="98.3" rx="3.2" ry="1.9"/><ellipse cx="133.3" cy="2.7" rx="4.0" ry="2.5"/><ellipse cx="113.2" cy="50" rx="2.5" ry="2.1"/><ellipse cx="151.7" cy="86.3" rx="2.7" ry="1.9"/><ellipse cx="128.3" cy="111.7" rx="3.1" ry="1.8"/><ellipse cx="172.4" cy="78.9" rx="2.4" ry="2.2"/><ellipse cx="160.2" cy="110.3" rx="3.0" ry="2.0"/><ellipse cx="103.8" cy="36.8" rx="3.2" ry="2.4"/><ellipse cx="172.6" cy="62.9" rx="3.4" ry="2.2"/><ellipse cx="184.1" cy="96.8" rx="3.0" ry="2.1"/><ellipse cx="135.1" cy="32.9" rx="3.4" ry="2.3"/><ellipse cx="86.5" cy="120.7" rx="2.9" ry="2.0"/><ellipse cx="94.4" cy="97.9" rx="3.1" ry="1.9"/><ellipse cx="78.9" cy="45.9" rx="3.6" ry="2.1"/><ellipse cx="177.8" cy="87.1" rx="2.1" ry="1.9"/><ellipse cx="82.5" cy="71.3" rx="3.4" ry="1.9"/><ellipse cx="193.8" cy="108.2" rx="2.4" ry="1.7"/><ellipse cx="164.2" cy="19.5" rx="2.5" ry="2.1"/><ellipse cx="63.3" cy="14.6" rx="2.8" ry="2.0"/><ellipse cx="96.7" cy="80.9" rx="2.6" ry="1.8"/><ellipse cx="109" cy="112.6" rx="2.3" ry="1.6"/><ellipse cx="61.9" cy="106.1" rx="2.8" ry="1.8"/><ellipse cx="115.8" cy="77.7" rx="2.2" ry="1.7"/><ellipse cx="162.8" cy="115.6" rx="2.2" ry="2.0"/><ellipse cx="0.3" cy="0.2" rx="2.4" ry="2.0"/><ellipse cx="56.3" cy="51.5" rx="2.5" ry="1.8"/><ellipse cx="130.7" cy="67.8" rx="2.0" ry="1.8"/><ellipse cx="87.8" cy="25.7" rx="2.9" ry="2.2"/><ellipse cx="88" cy="116" rx="2.3" ry="1.6"/><ellipse cx="127.7" cy="20.9" rx="2.9" ry="2.2"/><ellipse cx="125.2" cy="51.7" rx="2.9" ry="1.7"/><ellipse cx="120.1" cy="0.9" rx="3.3" ry="1.9"/><ellipse cx="96.8" cy="65.2" rx="2.6" ry="1.7"/><ellipse cx="75.7" cy="30" rx="2.6" ry="1.8"/><ellipse cx="56.7" cy="37.6" rx="1.9" ry="1.6"/><ellipse cx="136.8" cy="57.4" rx="2.0" ry="1.7"/><ellipse cx="61.8" cy="73" rx="1.8" ry="1.8"/><ellipse cx="138.5" cy="15.2" rx="2.6" ry="1.9"/><ellipse cx="49.2" cy="63.1" rx="2.0" ry="2.1"/><ellipse cx="11.4" cy="7.4" rx="3.5" ry="2.1"/><ellipse cx="70.4" cy="20.2" rx="2.8" ry="1.7"/><ellipse cx="63.2" cy="6.2" rx="2.3" ry="1.8"/><ellipse cx="119.9" cy="65.2" rx="2.4" ry="1.6"/><ellipse cx="34.8" cy="7.9" rx="3.0" ry="1.9"/><ellipse cx="58.7" cy="25" rx="2.1" ry="1.9"/><ellipse cx="71.6" cy="4.5" rx="2.7" ry="1.9"/><ellipse cx="146.1" cy="80.8" rx="1.9" ry="1.5"/><ellipse cx="111.1" cy="98.7" rx="2.7" ry="1.8"/><ellipse cx="163.3" cy="90.9" rx="2.3" ry="1.6"/><ellipse cx="16.7" cy="27.4" rx="2.2" ry="1.5"/><ellipse cx="138.9" cy="87.8" rx="2.6" ry="1.8"/><ellipse cx="151.3" cy="33.4" rx="2.4" ry="1.7"/><ellipse cx="77" cy="64.4" rx="1.8" ry="1.4"/><ellipse cx="115.5" cy="106.2" rx="2.0" ry="1.5"/><ellipse cx="125" cy="58.4" rx="2.1" ry="1.6"/><ellipse cx="126.3" cy="70.1" rx="3.0" ry="1.6"/><ellipse cx="92.2" cy="81.9" rx="2.2" ry="1.5"/><ellipse cx="190.9" cy="98.3" rx="2.0" ry="1.6"/><ellipse cx="69.5" cy="97.7" rx="1.9" ry="1.5"/><ellipse cx="45.9" cy="43.7" rx="2.6" ry="1.7"/><ellipse cx="169.7" cy="53.3" rx="1.9" ry="1.5"/><ellipse cx="134.1" cy="122.1" rx="1.8" ry="1.5"/><ellipse cx="83.1" cy="90.2" rx="2.3" ry="1.5"/><ellipse cx="64.6" cy="43.1" rx="2.5" ry="1.6"/><ellipse cx="72.2" cy="64.2" rx="2.1" ry="1.6"/><ellipse cx="122.2" cy="39.5" rx="1.7" ry="1.4"/><ellipse cx="3.1" cy="8" rx="2.7" ry="1.7"/><ellipse cx="90.1" cy="86.4" rx="2.1" ry="1.5"/><ellipse cx="71" cy="91.5" rx="2.3" ry="1.3"/><ellipse cx="182.2" cy="105.5" rx="2.1" ry="1.4"/><ellipse cx="52" cy="33.1" rx="1.7" ry="1.6"/><ellipse cx="161.2" cy="15.3" rx="2.2" ry="1.6"/><ellipse cx="110.9" cy="45" rx="2.0" ry="1.4"/><ellipse cx="190.6" cy="121.8" rx="1.5" ry="1.2"/><ellipse cx="153.3" cy="17.2" rx="1.9" ry="1.3"/><ellipse cx="130.4" cy="81" rx="2.1" ry="1.4"/><ellipse cx="170.2" cy="107.4" rx="1.9" ry="1.2"/><ellipse cx="110.2" cy="85.4" rx="1.5" ry="1.2"/><ellipse cx="67.2" cy="107.1" rx="2.1" ry="1.3"/><ellipse cx="98.6" cy="32.8" rx="2.7" ry="1.5"/><ellipse cx="118.3" cy="29.8" rx="2.0" ry="1.2"/><ellipse cx="30.6" cy="42.7" rx="2.1" ry="1.4"/><ellipse cx="154.4" cy="82.6" rx="1.6" ry="1.2"/><ellipse cx="91.4" cy="44.7" rx="1.4" ry="1.1"/><ellipse cx="153.2" cy="58.4" rx="2.0" ry="1.3"/><ellipse cx="128.4" cy="31.5" rx="1.7" ry="1.1"/><ellipse cx="93" cy="105.7" rx="1.9" ry="1.2"/><ellipse cx="105.5" cy="74.6" rx="1.6" ry="1.1"/><ellipse cx="184" cy="101.6" rx="1.3" ry="1.2"/><ellipse cx="130" cy="49.1" rx="2.5" ry="1.4"/><ellipse cx="82.7" cy="3.6" rx="1.9" ry="1.4"/><ellipse cx="111.7" cy="32.6" rx="2.3" ry="1.4"/><ellipse cx="89.4" cy="32.2" rx="1.8" ry="1.7"/><ellipse cx="132.9" cy="112.4" rx="2.0" ry="1.3"/><ellipse cx="73.7" cy="23.9" rx="2.1" ry="1.6"/><ellipse cx="63.8" cy="28.3" rx="1.8" ry="1.3"/><ellipse cx="45.6" cy="52.8" rx="1.6" ry="1.3"/><ellipse cx="161.1" cy="26.2" rx="1.7" ry="1.4"/><ellipse cx="124.3" cy="34.6" rx="2.3" ry="1.3"/><ellipse cx="58.3" cy="14.5" rx="2.1" ry="1.3"/><ellipse cx="173.7" cy="98.6" rx="1.6" ry="1.1"/><ellipse cx="182.5" cy="70.1" rx="2.0" ry="1.5"/><ellipse cx="163.1" cy="69.6" rx="1.2" ry="1.3"/><ellipse cx="131.1" cy="61.8" rx="1.7" ry="1.1"/><ellipse cx="62.2" cy="89.1" rx="1.7" ry="1.1"/><ellipse cx="36.5" cy="20.4" rx="1.8" ry="1.1"/><ellipse cx="97.2" cy="8.4" rx="1.6" ry="1.1"/><ellipse cx="148" cy="29.1" rx="1.4" ry="1.2"/><ellipse cx="114.9" cy="60" rx="1.8" ry="1.0"/><ellipse cx="35.4" cy="50.1" rx="2.2" ry="1.2"/><ellipse cx="120.7" cy="50.6" rx="1.7" ry="1.1"/><ellipse cx="51.4" cy="77" rx="1.3" ry="0.9"/><ellipse cx="80.3" cy="85.9" rx="1.9" ry="1.1"/><ellipse cx="96.3" cy="115.7" rx="1.7" ry="1.0"/><ellipse cx="147.4" cy="0.4" rx="1.7" ry="1.3"/><ellipse cx="95.2" cy="3.2" rx="1.7" ry="1.1"/><ellipse cx="134.1" cy="86.9" rx="1.7" ry="1.1"/><ellipse cx="30.6" cy="5.1" rx="1.8" ry="1.3"/><ellipse cx="158.1" cy="74.6" rx="1.4" ry="1.1"/><ellipse cx="133.9" cy="17.1" rx="2.1" ry="1.4"/><ellipse cx="143.3" cy="16.3" rx="1.3" ry="1.2"/><ellipse cx="115.7" cy="69.7" rx="1.4" ry="1.0"/><ellipse cx="37.2" cy="68.2" rx="2.0" ry="1.3"/><ellipse cx="168.2" cy="48.8" rx="1.6" ry="1.0"/><ellipse cx="145.9" cy="36.8" rx="1.5" ry="1.2"/><ellipse cx="168" cy="80.3" rx="1.5" ry="1.1"/><ellipse cx="126.3" cy="117" rx="1.4" ry="0.9"/><ellipse cx="143.8" cy="26.4" rx="1.2" ry="1.0"/><ellipse cx="162" cy="33.3" rx="1.6" ry="1.0"/><ellipse cx="47.8" cy="55.9" rx="1.2" ry="1.1"/><ellipse cx="98.9" cy="25.1" rx="1.2" ry="0.9"/><ellipse cx="134" cy="77" rx="1.6" ry="1.2"/><ellipse cx="56.4" cy="62.4" rx="1.1" ry="0.9"/><ellipse cx="155" cy="54.3" rx="2.1" ry="1.2"/><ellipse cx="161.9" cy="119.6" rx="1.1" ry="1.0"/><ellipse cx="120.9" cy="61.4" rx="1.4" ry="0.9"/><ellipse cx="151.7" cy="45.8" rx="1.3" ry="1.1"/><ellipse cx="87.7" cy="107.7" rx="1.2" ry="0.9"/><ellipse cx="122.9" cy="68.3" rx="1.0" ry="0.9"/><ellipse cx="36.8" cy="36.4" rx="1.5" ry="1.0"/><ellipse cx="69.8" cy="16.2" rx="1.0" ry="0.9"/><ellipse cx="119.5" cy="107.7" rx="1.5" ry="1.0"/><ellipse cx="75.5" cy="74.6" rx="1.4" ry="0.9"/><ellipse cx="34.9" cy="25" rx="1.0" ry="0.9"/><ellipse cx="83" cy="107" rx="1.4" ry="0.7"/><ellipse cx="92.3" cy="115.6" rx="1.1" ry="0.9"/><ellipse cx="53.7" cy="73.6" rx="1.2" ry="0.7"/><ellipse cx="112.1" cy="88.2" rx="0.9" ry="0.7"/><ellipse cx="84.8" cy="21.5" rx="1.4" ry="1.1"/><ellipse cx="138.9" cy="106.4" rx="0.8" ry="0.7"/><ellipse cx="43.7" cy="10.7" rx="1.8" ry="1.3"/><ellipse cx="134.2" cy="40.7" rx="1.8" ry="1.0"/><ellipse cx="177.3" cy="51.1" rx="1.2" ry="0.9"/><ellipse cx="159.9" cy="64.4" rx="1.7" ry="1.0"/></g></g><g clip-path="url(#cSF)"><g id="pSF" fill="#0b0b0b"><ellipse cx="583.4" cy="152.8" rx="4.78" ry="3.90" transform="rotate(15 583.4 152.8)"/><ellipse cx="479" cy="140.4" rx="4.23" ry="3.16" transform="rotate(-2.5 479 140.4)"/><ellipse cx="608" cy="155.4" rx="4.45" ry="4.07" transform="rotate(16.5 608 155.4)"/><ellipse cx="567.4" cy="151.2" rx="4.99" ry="3.78" transform="rotate(14.7 567.4 151.2)"/><ellipse cx="549.2" cy="145.3" rx="4.24" ry="3.65" transform="rotate(-15.2 549.2 145.3)"/><ellipse cx="625.6" cy="155.5" rx="5.49" ry="3.22" transform="rotate(24.2 625.6 155.5)"/><ellipse cx="635.5" cy="160.5" rx="4.12" ry="3.93" transform="rotate(-4.7 635.5 160.5)"/><ellipse cx="593.6" cy="156.5" rx="4.66" ry="4.11" transform="rotate(-23.8 593.6 156.5)"/><ellipse cx="515.5" cy="143.8" rx="4.10" ry="4.19" transform="rotate(5.6 515.5 143.8)"/><ellipse cx="559.9" cy="145.1" rx="4.15" ry="4.27" transform="rotate(31.8 559.9 145.1)"/><ellipse cx="533.8" cy="145.6" rx="4.18" ry="3.63" transform="rotate(-16.9 533.8 145.6)"/><ellipse cx="503.6" cy="143.5" rx="4.51" ry="3.85" transform="rotate(-15.2 503.6 143.5)"/><ellipse cx="491" cy="139.1" rx="5.14" ry="3.21" transform="rotate(-14.7 491 139.1)"/><ellipse cx="523.9" cy="149.3" rx="5.28" ry="3.57" transform="rotate(0.2 523.9 149.3)"/><ellipse cx="541.3" cy="151.4" rx="3.97" ry="2.95" transform="rotate(-1.9 541.3 151.4)"/><ellipse cx="619.4" cy="150.1" rx="3.08" ry="3.02" transform="rotate(33.1 619.4 150.1)"/><ellipse cx="576.6" cy="148.2" rx="3.94" ry="2.74" transform="rotate(-3.6 576.6 148.2)"/><ellipse cx="486.1" cy="146.1" rx="3.20" ry="2.74" transform="rotate(15.5 486.1 146.1)"/><ellipse cx="615.9" cy="159" rx="2.77" ry="2.26" transform="rotate(-3.2 615.9 159)"/><ellipse cx="636.6" cy="151.4" rx="3.15" ry="2.65" transform="rotate(5 636.6 151.4)"/><ellipse cx="602" cy="149.9" rx="2.55" ry="2.58" transform="rotate(0.8 602 149.9)"/><ellipse cx="554.2" cy="153.1" rx="3.35" ry="2.35" transform="rotate(0.7 554.2 153.1)"/><ellipse cx="493.4" cy="147.2" rx="2.86" ry="2.48" transform="rotate(-18.8 493.4 147.2)"/><ellipse cx="593.4" cy="147.4" rx="3.11" ry="2.13" transform="rotate(16.8 593.4 147.4)"/><ellipse cx="526.4" cy="141.3" rx="2.25" ry="1.92" transform="rotate(-4.3 526.4 141.3)"/><ellipse cx="574.5" cy="155.4" rx="2.69" ry="1.71" transform="rotate(2.6 574.5 155.4)"/><ellipse cx="508.7" cy="148.9" rx="1.88" ry="1.50" transform="rotate(3.6 508.7 148.9)"/><ellipse cx="541.6" cy="144.7" rx="2.13" ry="1.41" transform="rotate(32.4 541.6 144.7)"/><ellipse cx="560" cy="152.6" rx="1.36" ry="1.34" transform="rotate(-3.1 560 152.6)"/><ellipse cx="607.4" cy="148.2" rx="1.09" ry="1.02" transform="rotate(29.8 607.4 148.2)"/></g></g><g clip-path="url(#cSR)"><g id="pSR" fill="#0b0b0b"><ellipse cx="662.9" cy="132.2" rx="3.77" ry="1.80" transform="rotate(35.7 662.9 132.2)"/><ellipse cx="645.6" cy="147.2" rx="3.77" ry="1.80" transform="rotate(48.5 645.6 147.2)"/><ellipse cx="658.1" cy="133.9" rx="3.77" ry="1.80" transform="rotate(48.5 658.1 133.9)"/><ellipse cx="652.8" cy="143.5" rx="3.77" ry="1.80" transform="rotate(53.4 652.8 143.5)"/><ellipse cx="639.2" cy="154.1" rx="3.77" ry="1.80" transform="rotate(33.5 639.2 154.1)"/><ellipse cx="669.9" cy="125.9" rx="3.77" ry="1.80" transform="rotate(34.9 669.9 125.9)"/><ellipse cx="667.5" cy="124.4" rx="3.77" ry="1.80" transform="rotate(32.4 667.5 124.4)"/><ellipse cx="650.6" cy="141.2" rx="3.77" ry="1.80" transform="rotate(34.7 650.6 141.2)"/><ellipse cx="673.8" cy="120.4" rx="3.77" ry="1.80" transform="rotate(50 673.8 120.4)"/><ellipse cx="646.6" cy="148.8" rx="3.76" ry="1.80" transform="rotate(31.9 646.6 148.8)"/><ellipse cx="639.8" cy="156.3" rx="3.76" ry="1.80" transform="rotate(43.9 639.8 156.3)"/><ellipse cx="648.6" cy="148.4" rx="3.76" ry="1.80" transform="rotate(34.4 648.6 148.4)"/><ellipse cx="657.9" cy="138.6" rx="3.76" ry="1.80" transform="rotate(36.8 657.9 138.6)"/><ellipse cx="671.4" cy="119.7" rx="3.74" ry="1.79" transform="rotate(40.9 671.4 119.7)"/><ellipse cx="635.9" cy="161.2" rx="3.73" ry="1.79" transform="rotate(53.1 635.9 161.2)"/><ellipse cx="654.9" cy="136.5" rx="3.72" ry="1.78" transform="rotate(46.2 654.9 136.5)"/><ellipse cx="665.9" cy="130.6" rx="3.69" ry="1.76" transform="rotate(28.4 665.9 130.6)"/><ellipse cx="663" cy="127.7" rx="3.62" ry="1.73" transform="rotate(36.2 663 127.7)"/><ellipse cx="641.7" cy="155.6" rx="3.61" ry="1.72" transform="rotate(32.4 641.7 155.6)"/><ellipse cx="643.3" cy="148.7" rx="3.40" ry="1.63" transform="rotate(54.1 643.3 148.7)"/><ellipse cx="660.3" cy="132.8" rx="2.73" ry="1.31" transform="rotate(52.2 660.3 132.8)"/><ellipse cx="651.7" cy="142.1" rx="2.67" ry="1.28" transform="rotate(52.1 651.7 142.1)"/><ellipse cx="648.8" cy="142.5" rx="2.38" ry="1.14" transform="rotate(52.7 648.8 142.5)"/><ellipse cx="674.7" cy="115.5" rx="2.19" ry="1.05" transform="rotate(50.3 674.7 115.5)"/><ellipse cx="665.5" cy="124.8" rx="2.24" ry="1.07" transform="rotate(56.4 665.5 124.8)"/><ellipse cx="655.7" cy="139.9" rx="2.24" ry="1.07" transform="rotate(51.8 655.7 139.9)"/><ellipse cx="660.2" cy="136.8" rx="1.82" ry="0.87" transform="rotate(35.7 660.2 136.8)"/><ellipse cx="653.1" cy="137.9" rx="1.55" ry="0.74" transform="rotate(53.5 653.1 137.9)"/></g></g>
<rect x="736" y="2.9" width="405.8" height="250.7" fill="none" stroke="#1f3864" stroke-width="2" stroke-dasharray="5.2 2.1"/>
<g><defs><clipPath id="cV1"><rect x="772.1" y="15.8" width="99.7" height="94"/></clipPath><linearGradient id="gW1" x1="0" y1="0" x2="1" y2="0.3"><stop offset="0" stop-color="#a19ea2"/><stop offset="1" stop-color="#adaaad"/></linearGradient></defs><g clip-path="url(#cV1)"><g filter="url(#fB)"><rect x="762" y="6" width="120" height="114" fill="url(#gW1)"/><rect x="762" y="86.4" width="120" height="33.4" fill="#e2e0df"/><rect x="762" y="85.4" width="120" height="2" fill="#c9c7c8"/><ellipse cx="822" cy="101.5" rx="30" ry="3" fill="#cdcbca"/><polygon points="775.4,77.6 812.4,44 836.2,67.4 797.5,101.2" fill="#c8c6c9"/><polygon points="784.5,71.1 814.4,47.7 820.2,53.5 791.6,78.2" fill="#d3d1d4"/><polygon points="804,77.6 826.1,62 830,65.9 809.2,82.8" fill="#bfbdc0"/><polygon points="779.3,81.7 813.3,84.7 797.5,101.2" fill="#b6b4b6"/><polygon points="776.7,79.1 814.6,82.5 813.3,85.6 778.6,83" fill="#eeeded"/><line x1="775.4" y1="77.6" x2="797.5" y2="101.2" stroke="#e4e3e4" stroke-width="1.3"/><line x1="775.4" y1="77.6" x2="812.4" y2="44" stroke="#dad9da" stroke-width="1"/><polygon points="813.9,45.7 825.7,35.6 844.7,57.3 835.3,65.6" fill="#ecebe9" stroke="#ecebe9" stroke-width="4.6" stroke-linejoin="round"/><polygon points="827.5,35.6 841.6,24.2 856.4,41.8 844.1,55.1" fill="#e3e2df" stroke="#e3e2df" stroke-width="7.4" stroke-linejoin="round"/><polygon points="834.4,28.6 841.4,22.7 848.9,31.7 841.7,37.1" fill="#eeedeb" stroke="#eeedeb" stroke-width="3" stroke-linejoin="round"/><line x1="824.3" y1="35.5" x2="844.3" y2="58.6" stroke="#f8f8f7" stroke-width="1.3"/><line x1="843" y1="58.3" x2="858.8" y2="44" stroke="#d5d3d0" stroke-width="1.4"/><line x1="858.8" y1="49" x2="838" y2="96.8" stroke="#85785a" stroke-width="2"/><line x1="856.2" y1="50.5" x2="835.8" y2="95.1" stroke="#a99d80" stroke-width="1.6"/><line x1="791" y1="99.9" x2="843" y2="99.1" stroke="#877c6a" stroke-width="2.2"/><path d="M844.5,93.4 Q854.7,93.2 860.9,86.4 L865.3,91.2 Q858.6,95.1 848.2,96Z" fill="#2b2b2a"/><line x1="851.4" y1="78.6" x2="860.9" y2="86.7" stroke="#d6d5d5" stroke-width="0.8"/><circle cx="840.1" cy="97.8" r="2" fill="#3b372c"/><circle cx="843.7" cy="101.7" r="2" fill="#3b372c"/></g></g></g>
<g><defs><clipPath id="cV2"><rect x="1009.1" y="15.8" width="97.7" height="94"/></clipPath></defs><g clip-path="url(#cV2)"><g filter="url(#fB)"><rect x="999" y="6" width="118" height="114" fill="#c4c2c3"/><rect x="999" y="90.4" width="118" height="29.4" fill="#e3e2e0"/><rect x="999" y="89.6" width="118" height="1.6" fill="#d3d1d1"/><ellipse cx="1056" cy="101.8" rx="30" ry="2.6" fill="#d0cecc"/><polygon points="1014.9,77.6 1061.1,39.6 1083.2,62.2 1035.3,100.6" fill="#d3d1cf"/><polygon points="1026,71.1 1057.2,46.4 1062.4,51.6 1032.5,77.6" fill="#dcdad8"/><polygon points="1042.9,77.6 1067.6,59.4 1070.8,63.3 1046.8,82.8" fill="#cbc9c7"/><polygon points="1014.9,77.6 1021.8,72.9 1039.6,95.8 1035.3,100.6" fill="#edecea"/><polygon points="1058.9,43.2 1067.2,36.5 1084.1,57.3 1077.2,63.3" fill="#e4e2de" stroke="#e4e2de" stroke-width="3.6" stroke-linejoin="round"/><polygon points="1065.5,36.1 1078.2,27.6 1092.6,46.5 1080.8,57.1" fill="#dfddd8" stroke="#dfddd8" stroke-width="7.4" stroke-linejoin="round"/><polygon points="1071.8,31.4 1078,26.8 1085.1,35.9 1078.2,40.7" fill="#e9e7e3" stroke="#e9e7e3" stroke-width="3" stroke-linejoin="round"/><line x1="1058.7" y1="40.1" x2="1079.3" y2="63.3" stroke="#f2f1ee" stroke-width="1.2"/><line x1="1093" y1="52.9" x2="1073" y2="98.6" stroke="#8c7c55" stroke-width="2"/><line x1="1090.4" y1="55" x2="1070.8" y2="96.8" stroke="#b5a67e" stroke-width="1.6"/><line x1="1027.3" y1="101.2" x2="1078" y2="99.9" stroke="#877c6b" stroke-width="2.2"/><polygon points="1084.5,80.8 1089.7,80.2 1099.4,91.6 1095.5,93.2" fill="#8d8d8e"/><polygon points="1091,88 1095.5,86.7 1099.4,91.6 1095.5,93.2" fill="#4a4a4a"/><circle cx="1075.4" cy="98.6" r="2" fill="#3b372c"/><circle cx="1078.9" cy="102.3" r="2" fill="#3b372c"/></g></g></g>
<g fill="none" stroke="#15264b" stroke-width="1.7" stroke-linejoin="miter">
<polygon points="790.7,150 786,143 791.2,136.3 799.1,139.2 798.9,147.6" />
<polygon points="827.4,132 834.6,136.5 832.5,144.7 824.1,145.3 820.9,137.5" />
<polygon points="798.3,165.2 804.9,170.4 802,178.4 793.6,178.1 791.2,169.9" />
<polygon points="844.3,159.6 848.7,166.8 843.3,173.3 835.5,170.1 836,161.6" />
<polygon points="866.1,159.9 871.8,166.2 867.5,173.6 859.3,171.8 858.4,163.4" />
<polygon points="824.9,173.4 831,179.2 827.3,186.9 818.9,185.7 817.4,177.3" />
<polygon points="775.9,203.5 770.6,197 775.2,189.9 783.4,192 783.8,200.5" />
<polygon points="821.2,210.9 814.9,205.2 818.3,197.5 826.7,198.3 828.5,206.6" />
<polygon points="863.9,187.5 872,189.9 872.3,198.3 864.3,201.2 859.1,194.6" />
<polygon points="799.9,229.7 793.1,224.6 795.9,216.6 804.3,216.7 806.8,224.8" />
<polygon points="856.5,226.3 850.7,220.2 854.6,212.7 863,214.2 864.1,222.6" />
</g>
<circle cx="849.4" cy="143.9" r="5.4" fill="url(#gGreen)"/>
<circle cx="811.5" cy="155.6" r="5.4" fill="url(#gGreen)"/>
<circle cx="775.2" cy="162" r="5.4" fill="url(#gGreen)"/>
<circle cx="799.4" cy="195.2" r="5.4" fill="url(#gGreen)"/>
<circle cx="845" cy="194.4" r="5.4" fill="url(#gGreen)"/>
<circle cx="829.8" cy="223.2" r="5.4" fill="url(#gGreen)"/>
<text x="857.8" y="140.9" font-size="14.7" fill="#4f7a2f" class="b" >FEC</text>
<text x="875.7" y="167" font-size="14.7" fill="#1f3864" class="b" >DOL</text>
<text x="915.6" y="115.5" font-size="15.2" class="b" fill="#0a0a0a">Zn(OTf)<tspan font-size="10.8" dy="3.2">2</tspan></text>
<polygon points="915,125.9 968.6,125.9 968.6,121.2 980,131.5 968.6,141.8 968.6,137.1 915,137.1" fill="url(#gArr)"/>
<circle cx="1007.5" cy="159.1" r="5.2" fill="url(#gGreen)"/>
<circle cx="1085.3" cy="149.2" r="5.2" fill="url(#gGreen)"/>
<circle cx="1032.3" cy="181.2" r="5.2" fill="url(#gGreen)"/>
<circle cx="1071.8" cy="184" r="5.2" fill="url(#gGreen)"/>
<circle cx="1095.7" cy="211.1" r="5.2" fill="url(#gGreen)"/>
<circle cx="1032.3" cy="226.7" r="5.2" fill="url(#gGreen)"/>
<g fill="none" stroke="#15264b" stroke-width="1.6" stroke-linecap="round">
<path d="M1011.4 142.8C1008.5 154.9 1005 169.1 1012.1 173.6C1019.2 176.9 1032 162.7 1041.2 166.5C1048.3 169.8 1043.4 181.9 1047.9 189C1051.9 197.5 1069 200.4 1094.6 192.6"/>
<path d="M1063.3 139.2C1051.9 141.4 1034.8 144.9 1032.7 152C1031.3 159.1 1039.1 163.4 1050.5 167.7C1066.1 174.1 1094.6 189 1111.6 206.1"/>
<path d="M1103.8 143.5C1097.4 138.5 1088.9 133.5 1086 138.5C1083.2 144.9 1089.6 162 1083.9 167.7C1078.9 171.9 1066.1 155.6 1059.7 159.1C1054.7 162 1057.6 179.1 1047.6 181.9C1040.5 184 1029.1 179.1 1024.9 183.3C1019.2 189 1025.6 210.3 1032 211.8C1040.5 212.5 1040.5 193.3 1045.5 181.9"/>
<path d="M1009.9 189.7C1016.3 200.4 1026.3 216 1036.3 236.7"/>
<path d="M1012.1 211.1C1019.2 216 1032 227.4 1041.9 231C1051.9 233.8 1056.2 213.2 1064.7 207.5C1071.8 203.2 1077.5 227.4 1084.6 228.8C1093.2 230.3 1100.3 201.8 1106 179.1"/>
<path d="M1076.8 193.3C1066.1 199 1051.9 206.1 1047.6 213.2C1044.8 218.9 1080.3 226 1110.2 229.6"/>
<path d="M1051.9 167.7C1060.4 164.8 1074.7 174.8 1076.8 187.6C1078.2 196.1 1071.8 197.5 1069 196.1"/>
</g>
<text x="1031.7" y="137.1" font-size="14.9" fill="#1f3864" class="b" >PDOL</text>
<text x="1092.4" y="160.6" font-size="14.3" fill="#4f7a2f" class="b" >FEC</text>
<defs><clipPath id="cBF"><polygon points="2.3,356.8 208.9,377.6 206.8,471.6 6,453.3" /></clipPath><g id="blk"><polygon points="2.3,356.8 208.9,377.6 206.8,471.6 6,453.3" fill="url(#gFront)"/><polygon points="208.9,377.6 260.2,328 256.4,421.6 206.8,471.6" fill="url(#gRight)"/><g stroke="#fff" stroke-width="1.35" stroke-linecap="round" clip-path="url(#cBF)"><line x1="20.7" y1="358.3" x2="56.4" y2="415" /><line x1="4.9" y1="424.7" x2="56.4" y2="415" /><line x1="56.4" y1="415" x2="45" y2="456.5" /><line x1="56.4" y1="415" x2="87" y2="393.8" /><line x1="62.7" y1="363.7" x2="87" y2="393.8" /><line x1="87" y1="393.8" x2="133.7" y2="385.3" /><line x1="133.7" y1="385.3" x2="137.8" y2="370.5" /><line x1="133.7" y1="385.3" x2="157.5" y2="400.6" /><line x1="157.5" y1="400.6" x2="188.4" y2="375.4" /><line x1="87" y1="393.8" x2="110.6" y2="437" /><line x1="56.4" y1="415" x2="110.6" y2="437" /><line x1="110.6" y1="437" x2="147.1" y2="435.6" /><line x1="110.6" y1="437" x2="108.2" y2="463.3" /><line x1="147.1" y1="435.6" x2="147.1" y2="467.5" /><line x1="147.1" y1="435.6" x2="157.5" y2="400.6" /><line x1="147.1" y1="435.6" x2="174.5" y2="451.9" /><line x1="174.5" y1="451.9" x2="206.6" y2="451.9" /><line x1="174.5" y1="451.9" x2="164.1" y2="468.7" /><line x1="157.5" y1="400.6" x2="206.6" y2="451.9" /></g><g stroke="#f4f4f4" stroke-width="0.9" stroke-linecap="round" opacity="0.9"><line x1="228.5" y1="358.3" x2="234.6" y2="377.8" /><line x1="234.6" y1="377.8" x2="223.6" y2="414.2" /><line x1="223.6" y1="414.2" x2="237" y2="413" /><line x1="234.6" y1="377.8" x2="244.3" y2="359.6" /><line x1="244.3" y1="359.6" x2="250.4" y2="364.4" /><line x1="250.4" y1="364.4" x2="259.1" y2="357.9" /><line x1="244.3" y1="359.6" x2="243.1" y2="342.5" /><line x1="250.4" y1="364.4" x2="247.9" y2="399.7" /><line x1="247.9" y1="399.7" x2="257.7" y2="405" /><line x1="247.9" y1="399.7" x2="237" y2="413" /><line x1="237" y1="413" x2="237" y2="439.8" /><line x1="223.6" y1="414.2" x2="222.4" y2="455.6" /><line x1="245.5" y1="402.1" x2="244.3" y2="431.3" /><line x1="223.6" y1="414.2" x2="207.1" y2="451.2" /></g><g stroke="#f4f4f4" stroke-width="0.8" stroke-dasharray="4 1.5" opacity="0.85"><line x1="217.1" y1="371" x2="223.6" y2="414.2" /><line x1="254" y1="331.6" x2="251.6" y2="358.3" /><line x1="258.1" y1="372.9" x2="252.8" y2="397.2" /><line x1="252.8" y1="407" x2="246.7" y2="426.4" /></g><line x1="208.4" y1="380" x2="206.8" y2="470" stroke="#cfcfcf" stroke-width="0.9" opacity="0.8"/><text x="10.2" y="452.2" font-size="19.3" class="b" fill="#ffffff" fill-opacity="0.62">LATP</text></g></defs>
<defs><clipPath id="cPT"><polygon points="2.4,340.7 214.5,357.2 259.2,312.2 87.8,298.6" /></clipPath><clipPath id="cPF"><polygon points="2.4,340.7 214.5,357.2 208.3,376.9 2.4,356.9" /></clipPath><clipPath id="cPR"><polygon points="214.5,357.2 259.2,312.2 258.5,330.4 208.3,376.9" /></clipPath><g id="porW"><polygon points="2.4,340.7 214.5,357.2 259.2,312.2 87.8,298.6" fill="#f2f2f2"/><polygon points="2.4,340.7 214.5,357.2 208.3,376.9 2.4,356.9" fill="#ffffff"/><polygon points="214.5,357.2 259.2,312.2 258.5,330.4 208.3,376.9" fill="#efefef"/></g><g id="porB"><polygon points="2.4,340.7 214.5,357.2 259.2,312.2 87.8,298.6" fill="#97cff5"/><polygon points="2.4,340.7 214.5,357.2 208.3,376.9 2.4,356.9" fill="#a3d6f8"/><polygon points="214.5,357.2 259.2,312.2 258.5,330.4 208.3,376.9" fill="#8cc6ee"/></g><g id="porP"><g clip-path="url(#cPT)"><g id="pPT" fill="#0b0b0b" transform="matrix(0.9970 0.0776 0 -0.3200 2.4 340.7)"><ellipse cx="123.4" cy="32.9" rx="6.3" ry="4.2"/><ellipse cx="208.1" cy="78.1" rx="7.1" ry="4.3"/><ellipse cx="60.8" cy="0.5" rx="6.8" ry="5.1"/><ellipse cx="150.8" cy="10.6" rx="5.2" ry="4.9"/><ellipse cx="59.8" cy="35.4" rx="5.4" ry="4.2"/><ellipse cx="128.2" cy="17.6" rx="5.8" ry="4.8"/><ellipse cx="94.9" cy="23.6" rx="7.6" ry="4.7"/><ellipse cx="142.2" cy="52.2" rx="5.5" ry="4.0"/><ellipse cx="48.1" cy="5.7" rx="5.8" ry="4.4"/><ellipse cx="249.5" cy="136.2" rx="5.4" ry="3.9"/><ellipse cx="196.5" cy="88.5" rx="4.7" ry="3.9"/><ellipse cx="105.5" cy="55.6" rx="7.1" ry="4.5"/><ellipse cx="99.4" cy="151.5" rx="4.2" ry="4.1"/><ellipse cx="6.9" cy="14.2" rx="6.2" ry="4.5"/><ellipse cx="141.8" cy="114" rx="6.4" ry="4.2"/><ellipse cx="156.8" cy="84.8" rx="5.6" ry="4.1"/><ellipse cx="46.5" cy="25.9" rx="6.4" ry="4.9"/><ellipse cx="79" cy="15.7" rx="7.0" ry="4.2"/><ellipse cx="209.6" cy="118.4" rx="4.3" ry="3.9"/><ellipse cx="176" cy="103" rx="5.1" ry="4.3"/><ellipse cx="126.4" cy="57.2" rx="6.3" ry="4.0"/><ellipse cx="215.6" cy="7.9" rx="6.2" ry="4.7"/><ellipse cx="74.7" cy="63.9" rx="5.9" ry="4.1"/><ellipse cx="187.7" cy="4.3" rx="7.1" ry="4.4"/><ellipse cx="154.9" cy="64.9" rx="7.4" ry="4.2"/><ellipse cx="218.8" cy="46.9" rx="6.1" ry="4.7"/><ellipse cx="71.1" cy="117" rx="5.1" ry="4.3"/><ellipse cx="176.5" cy="145.3" rx="5.4" ry="3.9"/><ellipse cx="152.9" cy="98.1" rx="5.0" ry="3.9"/><ellipse cx="150.5" cy="39.2" rx="6.3" ry="4.8"/><ellipse cx="24.4" cy="14.3" rx="5.3" ry="4.9"/><ellipse cx="115.1" cy="21.5" rx="7.6" ry="4.1"/><ellipse cx="168.8" cy="19.3" rx="6.8" ry="4.3"/><ellipse cx="83.5" cy="75.2" rx="4.8" ry="4.7"/><ellipse cx="182.9" cy="83.8" rx="5.1" ry="4.1"/><ellipse cx="183.1" cy="133.1" rx="5.9" ry="4.0"/><ellipse cx="203.7" cy="1.2" rx="7.7" ry="5.2"/><ellipse cx="183.3" cy="38.5" rx="6.1" ry="4.1"/><ellipse cx="79.7" cy="137.2" rx="6.2" ry="3.6"/><ellipse cx="129.6" cy="83.7" rx="5.4" ry="3.9"/><ellipse cx="189.2" cy="147.3" rx="6.1" ry="3.6"/><ellipse cx="91.5" cy="48.5" rx="7.0" ry="4.4"/><ellipse cx="160.1" cy="3" rx="6.8" ry="4.9"/><ellipse cx="114" cy="78.8" rx="5.4" ry="3.9"/><ellipse cx="103.4" cy="34.3" rx="6.9" ry="4.6"/><ellipse cx="60.9" cy="58.7" rx="5.8" ry="4.0"/><ellipse cx="162.7" cy="146.7" rx="4.4" ry="3.8"/><ellipse cx="229.4" cy="118.7" rx="6.0" ry="3.8"/><ellipse cx="195.4" cy="101.8" rx="4.3" ry="4.0"/><ellipse cx="212.5" cy="146.8" rx="4.6" ry="4.0"/><ellipse cx="191.2" cy="70.4" rx="6.5" ry="4.3"/><ellipse cx="246.2" cy="107.2" rx="4.5" ry="4.2"/><ellipse cx="86.4" cy="97.7" rx="5.6" ry="4.3"/><ellipse cx="120.3" cy="66.5" rx="6.8" ry="3.9"/><ellipse cx="72.3" cy="26.6" rx="5.6" ry="4.6"/><ellipse cx="24.3" cy="47.1" rx="4.9" ry="4.1"/><ellipse cx="230.4" cy="56.4" rx="6.7" ry="3.9"/><ellipse cx="12.7" cy="28.6" rx="5.5" ry="4.1"/><ellipse cx="206.1" cy="51.5" rx="7.3" ry="4.6"/><ellipse cx="131.8" cy="103.3" rx="6.3" ry="4.4"/><ellipse cx="213.1" cy="32.6" rx="5.4" ry="4.8"/><ellipse cx="233.5" cy="103.5" rx="5.3" ry="4.0"/><ellipse cx="200.3" cy="137.5" rx="4.3" ry="3.7"/><ellipse cx="234" cy="147.8" rx="5.0" ry="4.1"/><ellipse cx="156.4" cy="115.1" rx="5.5" ry="3.8"/><ellipse cx="230.5" cy="78.3" rx="6.2" ry="4.0"/><ellipse cx="198.6" cy="114.5" rx="6.4" ry="3.9"/><ellipse cx="118.2" cy="5.4" rx="5.6" ry="4.5"/><ellipse cx="101.4" cy="0.6" rx="6.7" ry="4.8"/><ellipse cx="95.4" cy="125.9" rx="4.9" ry="4.0"/><ellipse cx="193.5" cy="57.1" rx="6.5" ry="4.1"/><ellipse cx="53.3" cy="75.8" rx="5.3" ry="4.2"/><ellipse cx="56.1" cy="104.6" rx="6.4" ry="3.7"/><ellipse cx="167.2" cy="56.1" rx="5.4" ry="4.7"/><ellipse cx="36.3" cy="8.8" rx="6.5" ry="4.1"/><ellipse cx="57" cy="89.4" rx="5.9" ry="4.6"/><ellipse cx="56.9" cy="17" rx="6.4" ry="4.9"/><ellipse cx="24.8" cy="31" rx="7.2" ry="4.1"/><ellipse cx="42.2" cy="51.9" rx="7.2" ry="3.9"/><ellipse cx="83.7" cy="120.8" rx="4.4" ry="4.1"/><ellipse cx="170.5" cy="67.4" rx="5.7" ry="4.5"/><ellipse cx="72.1" cy="90.5" rx="5.5" ry="4.2"/><ellipse cx="229.6" cy="128.9" rx="5.5" ry="4.1"/><ellipse cx="175" cy="117.6" rx="6.5" ry="4.4"/><ellipse cx="117" cy="116.3" rx="5.3" ry="4.4"/><ellipse cx="218" cy="20.6" rx="4.9" ry="4.8"/><ellipse cx="142.7" cy="129.4" rx="5.7" ry="3.5"/><ellipse cx="202.1" cy="28.5" rx="5.6" ry="4.7"/><ellipse cx="163.7" cy="96" rx="4.4" ry="4.0"/><ellipse cx="244.9" cy="147" rx="5.7" ry="3.6"/><ellipse cx="102.6" cy="67.1" rx="6.1" ry="3.8"/><ellipse cx="176.7" cy="48" rx="5.0" ry="4.0"/><ellipse cx="137.8" cy="37.9" rx="6.2" ry="4.3"/><ellipse cx="222.9" cy="98" rx="6.5" ry="4.3"/><ellipse cx="108.1" cy="104.2" rx="6.3" ry="3.6"/><ellipse cx="67.2" cy="105.5" rx="5.6" ry="4.5"/><ellipse cx="87.8" cy="65.2" rx="6.1" ry="4.4"/><ellipse cx="123.9" cy="130.9" rx="6.2" ry="3.6"/><ellipse cx="168.2" cy="83.6" rx="7.2" ry="4.1"/><ellipse cx="103.5" cy="114.5" rx="5.6" ry="4.4"/><ellipse cx="146.2" cy="141.2" rx="4.2" ry="4.0"/><ellipse cx="142.1" cy="89.7" rx="4.8" ry="4.4"/><ellipse cx="185.3" cy="20.1" rx="5.8" ry="4.8"/><ellipse cx="218.5" cy="59.2" rx="6.0" ry="4.5"/><ellipse cx="64.6" cy="74" rx="7.0" ry="4.5"/><ellipse cx="42.3" cy="80.8" rx="6.6" ry="3.9"/><ellipse cx="169.4" cy="34.1" rx="7.0" ry="4.6"/><ellipse cx="133.7" cy="66.4" rx="5.0" ry="4.3"/><ellipse cx="221.3" cy="83.9" rx="5.7" ry="4.1"/><ellipse cx="121.9" cy="149.4" rx="5.7" ry="3.5"/><ellipse cx="97.5" cy="87" rx="6.8" ry="4.6"/><ellipse cx="116.4" cy="46.5" rx="4.8" ry="4.0"/><ellipse cx="111.8" cy="149.2" rx="5.2" ry="3.7"/><ellipse cx="90.1" cy="108.5" rx="5.4" ry="4.0"/><ellipse cx="223.1" cy="110" rx="5.0" ry="4.0"/><ellipse cx="117.2" cy="140.3" rx="5.0" ry="3.7"/><ellipse cx="16.9" cy="0.6" rx="7.4" ry="4.7"/><ellipse cx="87" cy="6.4" rx="7.8" ry="5.0"/><ellipse cx="74.6" cy="41.1" rx="7.2" ry="4.2"/><ellipse cx="139.6" cy="149.3" rx="5.8" ry="3.8"/><ellipse cx="155.3" cy="22.6" rx="5.1" ry="4.3"/><ellipse cx="155.5" cy="52.3" rx="4.7" ry="4.3"/><ellipse cx="121.3" cy="92.3" rx="6.0" ry="3.7"/><ellipse cx="39.8" cy="67.8" rx="6.3" ry="4.0"/><ellipse cx="92.1" cy="139" rx="4.4" ry="3.5"/><ellipse cx="203" cy="67.7" rx="6.3" ry="4.0"/><ellipse cx="169.8" cy="126.5" rx="5.4" ry="3.8"/><ellipse cx="107.6" cy="137.8" rx="5.8" ry="4.0"/><ellipse cx="210.1" cy="128.6" rx="6.3" ry="4.1"/><ellipse cx="128.8" cy="141.6" rx="5.2" ry="3.8"/><ellipse cx="146.5" cy="77.3" rx="5.3" ry="3.8"/><ellipse cx="240.8" cy="128" rx="4.7" ry="3.9"/><ellipse cx="201.4" cy="149.5" rx="4.8" ry="4.1"/><ellipse cx="128.3" cy="115.6" rx="6.5" ry="3.8"/><ellipse cx="198" cy="16.6" rx="7.1" ry="4.7"/><ellipse cx="199.6" cy="40.5" rx="5.5" ry="4.5"/><ellipse cx="208.4" cy="98.1" rx="4.4" ry="3.9"/><ellipse cx="108.2" cy="92.8" rx="5.8" ry="4.2"/><ellipse cx="166" cy="110.2" rx="6.1" ry="4.4"/><ellipse cx="254.1" cy="151.2" rx="6.3" ry="4.0"/><ellipse cx="246.1" cy="117.9" rx="5.7" ry="3.9"/><ellipse cx="64.1" cy="46.7" rx="5.7" ry="4.2"/><ellipse cx="77.8" cy="105.9" rx="4.6" ry="3.8"/><ellipse cx="160.2" cy="129.7" rx="5.5" ry="3.7"/><ellipse cx="188" cy="124.2" rx="4.6" ry="4.1"/><ellipse cx="235.4" cy="90.8" rx="5.3" ry="4.2"/><ellipse cx="141.9" cy="23.9" rx="5.0" ry="4.6"/><ellipse cx="221.6" cy="138.4" rx="5.1" ry="4.2"/><ellipse cx="29.3" cy="57.1" rx="4.8" ry="4.1"/><ellipse cx="87.6" cy="147.6" rx="5.8" ry="3.7"/><ellipse cx="131.8" cy="0.9" rx="6.8" ry="5.1"/><ellipse cx="42.7" cy="38.2" rx="6.3" ry="4.0"/><ellipse cx="225.8" cy="36.1" rx="5.2" ry="4.6"/><ellipse cx="110.9" cy="124.7" rx="4.3" ry="4.1"/><ellipse cx="221.2" cy="72" rx="5.0" ry="3.9"/><ellipse cx="72.7" cy="2.9" rx="7.6" ry="4.6"/><ellipse cx="173.1" cy="4.3" rx="5.4" ry="4.9"/><ellipse cx="89.2" cy="34.1" rx="6.8" ry="4.8"/><ellipse cx="94.9" cy="75.5" rx="7.0" ry="4.1"/><ellipse cx="181.8" cy="61.6" rx="6.9" ry="3.8"/><ellipse cx="169.5" cy="136.4" rx="5.5" ry="3.6"/><ellipse cx="164.8" cy="44.9" rx="5.7" ry="4.7"/><ellipse cx="52.2" cy="45.6" rx="6.2" ry="4.3"/><ellipse cx="69.9" cy="128.5" rx="5.4" ry="4.2"/><ellipse cx="235.1" cy="66.7" rx="4.6" ry="4.0"/><ellipse cx="221.9" cy="152" rx="4.1" ry="3.7"/><ellipse cx="128.4" cy="45.8" rx="6.8" ry="3.8"/><ellipse cx="151.4" cy="149.4" rx="5.2" ry="3.7"/><ellipse cx="188.7" cy="110" rx="6.6" ry="3.7"/><ellipse cx="183.1" cy="94.5" rx="6.4" ry="3.9"/><ellipse cx="81.4" cy="54.3" rx="6.8" ry="4.6"/><ellipse cx="180.4" cy="72.6" rx="5.3" ry="4.0"/><ellipse cx="161.2" cy="74.7" rx="4.7" ry="4.3"/><ellipse cx="84" cy="86.7" rx="6.6" ry="3.8"/><ellipse cx="234.2" cy="137.8" rx="5.5" ry="3.7"/><ellipse cx="199.3" cy="127.5" rx="5.4" ry="4.1"/><ellipse cx="97.2" cy="98" rx="4.6" ry="3.9"/><ellipse cx="50.3" cy="61.7" rx="6.3" ry="4.0"/><ellipse cx="118.8" cy="104.3" rx="6.2" ry="4.2"/><ellipse cx="34.5" cy="25" rx="7.2" ry="4.0"/><ellipse cx="142.7" cy="100.8" rx="6.3" ry="4.0"/><ellipse cx="100.7" cy="13.2" rx="4.7" ry="3.8"/><ellipse cx="0.5" cy="2" rx="4.5" ry="4.4"/><ellipse cx="156" cy="140" rx="5.3" ry="3.1"/><ellipse cx="212" cy="108.3" rx="5.5" ry="3.3"/><ellipse cx="136.3" cy="122.3" rx="5.7" ry="3.2"/><ellipse cx="219.4" cy="125.3" rx="4.8" ry="3.3"/><ellipse cx="32.2" cy="39.8" rx="5.7" ry="3.9"/><ellipse cx="237.4" cy="112.6" rx="3.6" ry="3.6"/><ellipse cx="190.7" cy="46.9" rx="4.7" ry="3.7"/><ellipse cx="102" cy="45.2" rx="4.9" ry="3.3"/><ellipse cx="191.2" cy="29.8" rx="4.2" ry="3.6"/><ellipse cx="133.8" cy="134" rx="3.5" ry="3.0"/><ellipse cx="139.1" cy="10" rx="5.8" ry="3.4"/><ellipse cx="63.3" cy="96.6" rx="4.3" ry="3.1"/><ellipse cx="198.4" cy="77.6" rx="3.5" ry="3.4"/><ellipse cx="87" cy="130.9" rx="3.8" ry="3.3"/><ellipse cx="173.3" cy="93.2" rx="3.8" ry="3.2"/><ellipse cx="132.8" cy="93.4" rx="4.6" ry="3.4"/><ellipse cx="62.2" cy="114.3" rx="4.5" ry="2.6"/><ellipse cx="94.9" cy="58.1" rx="5.1" ry="3.4"/><ellipse cx="67.8" cy="15.7" rx="5.8" ry="3.8"/><ellipse cx="104.3" cy="79.3" rx="4.8" ry="3.5"/><ellipse cx="212.7" cy="137.9" rx="3.2" ry="2.9"/><ellipse cx="136.9" cy="75.8" rx="4.3" ry="2.8"/><ellipse cx="215.5" cy="91.9" rx="3.4" ry="3.1"/><ellipse cx="149.1" cy="120.5" rx="3.6" ry="2.5"/><ellipse cx="207.9" cy="19.9" rx="3.4" ry="3.2"/><ellipse cx="243.5" cy="97.6" rx="3.8" ry="3.0"/><ellipse cx="64.9" cy="84.4" rx="4.8" ry="2.9"/><ellipse cx="145.4" cy="63.4" rx="4.7" ry="2.7"/><ellipse cx="74.1" cy="77.2" rx="4.9" ry="2.8"/><ellipse cx="146.5" cy="0.8" rx="5.4" ry="3.2"/><ellipse cx="72" cy="53.1" rx="3.3" ry="2.7"/><ellipse cx="176.5" cy="26.1" rx="5.1" ry="3.4"/><ellipse cx="149" cy="107.2" rx="4.5" ry="2.5"/><ellipse cx="190.3" cy="138.2" rx="3.8" ry="2.5"/><ellipse cx="123.4" cy="76.3" rx="4.2" ry="2.6"/><ellipse cx="249.3" cy="127.5" rx="3.0" ry="2.2"/><ellipse cx="208.6" cy="87.4" rx="3.2" ry="2.7"/><ellipse cx="170.4" cy="151.3" rx="4.0" ry="2.5"/><ellipse cx="117" cy="56.7" rx="3.9" ry="2.8"/><ellipse cx="105" cy="24.4" rx="3.1" ry="2.6"/><ellipse cx="94.9" cy="116.4" rx="3.8" ry="2.6"/><ellipse cx="159" cy="34.5" rx="3.5" ry="2.8"/><ellipse cx="113.2" cy="33" rx="3.8" ry="2.4"/><ellipse cx="57.8" cy="67.8" rx="2.9" ry="2.7"/><ellipse cx="44.4" cy="16" rx="3.7" ry="3.2"/><ellipse cx="132.2" cy="28.1" rx="4.7" ry="2.8"/><ellipse cx="203.3" cy="107" rx="3.5" ry="2.1"/><ellipse cx="212.1" cy="69.4" rx="2.6" ry="2.6"/><ellipse cx="157.1" cy="106.1" rx="3.3" ry="2.2"/><ellipse cx="160.1" cy="13.5" rx="4.3" ry="2.3"/><ellipse cx="151.9" cy="128.3" rx="2.6" ry="2.4"/><ellipse cx="30.6" cy="0.9" rx="3.7" ry="2.4"/><ellipse cx="138" cy="139.9" rx="3.3" ry="1.9"/><ellipse cx="84.6" cy="25.2" rx="3.0" ry="2.4"/><ellipse cx="103.1" cy="130.4" rx="3.2" ry="1.8"/><ellipse cx="109.8" cy="12.1" rx="3.0" ry="2.7"/><ellipse cx="111.6" cy="62.6" rx="3.9" ry="2.4"/><ellipse cx="101" cy="142.9" rx="2.4" ry="2.0"/><ellipse cx="80.7" cy="30.8" rx="2.5" ry="2.1"/><ellipse cx="33.5" cy="49.3" rx="2.7" ry="2.2"/><ellipse cx="115.7" cy="130.9" rx="2.8" ry="1.8"/><ellipse cx="82" cy="113" rx="3.2" ry="1.9"/><ellipse cx="184.5" cy="117" rx="2.5" ry="2.1"/><ellipse cx="206.4" cy="10.1" rx="2.7" ry="2.2"/><ellipse cx="131.1" cy="152.3" rx="2.5" ry="2.0"/><ellipse cx="62.3" cy="25.7" rx="2.7" ry="2.4"/><ellipse cx="163.4" cy="119.7" rx="2.7" ry="2.0"/><ellipse cx="149.6" cy="133.9" rx="2.7" ry="1.9"/><ellipse cx="16.8" cy="19.4" rx="2.8" ry="2.0"/><ellipse cx="177.9" cy="125.5" rx="2.8" ry="1.9"/><ellipse cx="127.6" cy="123.4" rx="2.4" ry="1.8"/><ellipse cx="177" cy="13.1" rx="3.3" ry="2.3"/><ellipse cx="84" cy="41.5" rx="3.7" ry="2.0"/><ellipse cx="191.4" cy="80.1" rx="3.6" ry="2.0"/><ellipse cx="193.2" cy="132.2" rx="2.9" ry="1.6"/><ellipse cx="208.9" cy="40.5" rx="2.8" ry="1.9"/><ellipse cx="171.6" cy="75.8" rx="2.6" ry="2.0"/><ellipse cx="77.8" cy="127.8" rx="2.2" ry="2.0"/><ellipse cx="254.5" cy="142.3" rx="2.4" ry="1.4"/><ellipse cx="8.7" cy="5.5" rx="2.0" ry="1.7"/><ellipse cx="242.3" cy="140.2" rx="2.1" ry="1.7"/><ellipse cx="89.2" cy="15.5" rx="1.9" ry="1.7"/><ellipse cx="49.4" cy="85" rx="1.8" ry="1.6"/><ellipse cx="227.2" cy="65" rx="2.3" ry="1.7"/><ellipse cx="228.1" cy="88.6" rx="1.6" ry="1.5"/><ellipse cx="196.7" cy="7.2" rx="3.0" ry="2.2"/><ellipse cx="237.9" cy="120.4" rx="2.7" ry="1.6"/><ellipse cx="209.2" cy="60.5" rx="2.0" ry="1.7"/><ellipse cx="134.7" cy="56.3" rx="2.1" ry="1.6"/><ellipse cx="145.7" cy="32.2" rx="2.0" ry="1.7"/><ellipse cx="110.2" cy="1.7" rx="2.7" ry="1.9"/><ellipse cx="54.8" cy="96.9" rx="1.8" ry="1.6"/><ellipse cx="110.3" cy="70.4" rx="2.0" ry="1.5"/><ellipse cx="237.6" cy="83.1" rx="1.6" ry="1.6"/><ellipse cx="184.5" cy="103.6" rx="2.5" ry="1.5"/><ellipse cx="149.7" cy="91" rx="1.8" ry="1.5"/><ellipse cx="78" cy="95.4" rx="1.8" ry="1.2"/><ellipse cx="191.5" cy="94.2" rx="1.8" ry="1.4"/><ellipse cx="227.4" cy="143.5" rx="2.3" ry="1.4"/><ellipse cx="195.3" cy="120.8" rx="1.5" ry="1.1"/><ellipse cx="100.1" cy="105.1" rx="2.4" ry="1.3"/><ellipse cx="176.1" cy="130.3" rx="2.1" ry="1.5"/><ellipse cx="142.7" cy="69.8" rx="2.7" ry="1.8"/><ellipse cx="66.6" cy="66.2" rx="1.7" ry="1.6"/><ellipse cx="63.3" cy="9.8" rx="2.3" ry="1.4"/><ellipse cx="217.1" cy="115.7" rx="1.7" ry="1.5"/><ellipse cx="118.7" cy="123.6" rx="1.6" ry="1.5"/><ellipse cx="182.1" cy="151" rx="2.3" ry="1.6"/><ellipse cx="175.8" cy="56.2" rx="1.9" ry="1.7"/><ellipse cx="50.8" cy="37.6" rx="2.1" ry="1.4"/><ellipse cx="185.4" cy="54.5" rx="1.7" ry="1.4"/><ellipse cx="166" cy="9.9" rx="2.2" ry="1.7"/><ellipse cx="74.2" cy="99.5" rx="1.5" ry="1.1"/><ellipse cx="110.2" cy="41.2" rx="2.1" ry="1.3"/><ellipse cx="195.1" cy="142.5" rx="1.8" ry="1.1"/><ellipse cx="149.4" cy="28.8" rx="1.6" ry="1.2"/><ellipse cx="102.9" cy="123.9" rx="2.1" ry="1.4"/><ellipse cx="25.9" cy="23" rx="1.4" ry="1.4"/><ellipse cx="217.3" cy="132.8" rx="1.4" ry="1.0"/><ellipse cx="21.5" cy="22" rx="2.1" ry="1.3"/><ellipse cx="149.8" cy="58" rx="2.2" ry="1.6"/><ellipse cx="162.7" cy="29.6" rx="1.9" ry="1.2"/><ellipse cx="36.6" cy="59.7" rx="1.2" ry="1.2"/></g></g><g clip-path="url(#cPF)"><g id="pPF" fill="#0b0b0b"><ellipse cx="30.6" cy="345.3" rx="7.74" ry="4.60" transform="rotate(-24.1 30.6 345.3)"/><ellipse cx="73.4" cy="360.1" rx="7.84" ry="4.66" transform="rotate(-18.3 73.4 360.1)"/><ellipse cx="205.5" cy="363.8" rx="7.04" ry="4.92" transform="rotate(27.8 205.5 363.8)"/><ellipse cx="152.7" cy="355.5" rx="6.08" ry="5.88" transform="rotate(-6.4 152.7 355.5)"/><ellipse cx="126.5" cy="357" rx="6.93" ry="5.84" transform="rotate(15.6 126.5 357)"/><ellipse cx="181" cy="365.6" rx="7.66" ry="5.49" transform="rotate(-22.6 181 365.6)"/><ellipse cx="163.5" cy="369.5" rx="7.57" ry="5.30" transform="rotate(-6.9 163.5 369.5)"/><ellipse cx="10.9" cy="349.9" rx="5.99" ry="5.71" transform="rotate(9.4 10.9 349.9)"/><ellipse cx="87.3" cy="358.4" rx="7.70" ry="5.59" transform="rotate(32.1 87.3 358.4)"/><ellipse cx="43.2" cy="354.8" rx="6.85" ry="5.47" transform="rotate(11.2 43.2 354.8)"/><ellipse cx="111.8" cy="359.5" rx="6.14" ry="5.88" transform="rotate(-6.8 111.8 359.5)"/><ellipse cx="57.7" cy="348" rx="7.34" ry="5.88" transform="rotate(13.5 57.7 348)"/><ellipse cx="139" cy="364.8" rx="5.87" ry="5.67" transform="rotate(14.5 139 364.8)"/><ellipse cx="24.2" cy="356.7" rx="5.93" ry="4.42" transform="rotate(6.4 24.2 356.7)"/><ellipse cx="192.1" cy="372.9" rx="5.41" ry="5.61" transform="rotate(4.8 192.1 372.9)"/><ellipse cx="101" cy="351.7" rx="6.40" ry="4.77" transform="rotate(14.1 101 351.7)"/><ellipse cx="194" cy="358.7" rx="6.43" ry="4.09" transform="rotate(-3.1 194 358.7)"/><ellipse cx="59.8" cy="360.5" rx="5.86" ry="4.12" transform="rotate(10.2 59.8 360.5)"/><ellipse cx="166.9" cy="356.3" rx="5.44" ry="4.05" transform="rotate(14.8 166.9 356.3)"/><ellipse cx="150.7" cy="368.9" rx="5.43" ry="3.63" transform="rotate(34.2 150.7 368.9)"/><ellipse cx="70.2" cy="348.1" rx="4.91" ry="3.90" transform="rotate(-1.4 70.2 348.1)"/><ellipse cx="98.6" cy="363.8" rx="5.49" ry="4.20" transform="rotate(5.2 98.6 363.8)"/><ellipse cx="1.2" cy="342" rx="4.29" ry="3.01" transform="rotate(28.2 1.2 342)"/><ellipse cx="208.4" cy="375.2" rx="3.74" ry="3.30" transform="rotate(-4.6 208.4 375.2)"/><ellipse cx="1.4" cy="355.1" rx="3.98" ry="3.11" transform="rotate(-14.1 1.4 355.1)"/><ellipse cx="119.5" cy="366.9" rx="3.18" ry="2.94" transform="rotate(22.2 119.5 366.9)"/><ellipse cx="127.1" cy="367.8" rx="3.40" ry="2.27" transform="rotate(16.1 127.1 367.8)"/><ellipse cx="80.3" cy="348.7" rx="3.07" ry="2.72" transform="rotate(24.1 80.3 348.7)"/><ellipse cx="20.3" cy="343.9" rx="3.41" ry="2.27" transform="rotate(25.2 20.3 343.9)"/><ellipse cx="46.9" cy="345.6" rx="2.99" ry="2.32" transform="rotate(9.5 46.9 345.6)"/><ellipse cx="136.4" cy="353.3" rx="2.92" ry="2.07" transform="rotate(2.8 136.4 353.3)"/><ellipse cx="172.6" cy="362.2" rx="2.27" ry="1.70" transform="rotate(-4.3 172.6 362.2)"/><ellipse cx="117.1" cy="350.4" rx="2.22" ry="1.72" transform="rotate(11 117.1 350.4)"/><ellipse cx="65.4" cy="354.3" rx="2.00" ry="1.14" transform="rotate(4.4 65.4 354.3)"/><ellipse cx="34.5" cy="357.7" rx="1.87" ry="1.31" transform="rotate(-15.3 34.5 357.7)"/><ellipse cx="179.9" cy="355.4" rx="1.80" ry="1.28" transform="rotate(-9.4 179.9 355.4)"/><ellipse cx="143" cy="352.8" rx="2.28" ry="2.38" transform="rotate(-4.4 143 352.8)"/><ellipse cx="87.4" cy="349" rx="1.84" ry="1.49" transform="rotate(-10.3 87.4 349)"/></g></g><g clip-path="url(#cPR)"><g id="pPR" fill="#0b0b0b"><ellipse cx="256.6" cy="329.2" rx="5.23" ry="2.50" transform="rotate(57.6 256.6 329.2)"/><ellipse cx="239.8" cy="338.7" rx="5.23" ry="2.50" transform="rotate(58.3 239.8 338.7)"/><ellipse cx="218.6" cy="356.4" rx="5.23" ry="2.50" transform="rotate(56.6 218.6 356.4)"/><ellipse cx="221.8" cy="356.5" rx="5.23" ry="2.50" transform="rotate(32.3 221.8 356.5)"/><ellipse cx="214" cy="367.1" rx="5.23" ry="2.50" transform="rotate(47.6 214 367.1)"/><ellipse cx="235.1" cy="347.3" rx="5.23" ry="2.50" transform="rotate(42.5 235.1 347.3)"/><ellipse cx="227.5" cy="354.8" rx="5.22" ry="2.50" transform="rotate(45.7 227.5 354.8)"/><ellipse cx="250.9" cy="324.6" rx="5.22" ry="2.50" transform="rotate(33.7 250.9 324.6)"/><ellipse cx="216.8" cy="367.6" rx="5.22" ry="2.50" transform="rotate(35.6 216.8 367.6)"/><ellipse cx="232.6" cy="340.4" rx="5.22" ry="2.50" transform="rotate(43.1 232.6 340.4)"/><ellipse cx="243.3" cy="342.9" rx="5.22" ry="2.50" transform="rotate(36.4 243.3 342.9)"/><ellipse cx="257.2" cy="318.7" rx="5.22" ry="2.50" transform="rotate(43.5 257.2 318.7)"/><ellipse cx="211.7" cy="365.4" rx="5.22" ry="2.50" transform="rotate(30.6 211.7 365.4)"/><ellipse cx="244.6" cy="330.5" rx="5.22" ry="2.50" transform="rotate(32.4 244.6 330.5)"/><ellipse cx="228.1" cy="346.3" rx="5.22" ry="2.50" transform="rotate(51.1 228.1 346.3)"/><ellipse cx="247.9" cy="336.5" rx="5.22" ry="2.50" transform="rotate(42.4 247.9 336.5)"/><ellipse cx="252.2" cy="331.7" rx="5.21" ry="2.49" transform="rotate(45.2 252.2 331.7)"/><ellipse cx="237.2" cy="337" rx="5.16" ry="2.47" transform="rotate(51.8 237.2 337)"/><ellipse cx="238.7" cy="347.4" rx="4.87" ry="2.33" transform="rotate(40.6 238.7 347.4)"/><ellipse cx="221.5" cy="363.4" rx="4.67" ry="2.23" transform="rotate(31.5 221.5 363.4)"/><ellipse cx="209.3" cy="374.3" rx="4.05" ry="1.94" transform="rotate(53.3 209.3 374.3)"/><ellipse cx="216" cy="356.7" rx="3.82" ry="1.83" transform="rotate(47.5 216 356.7)"/><ellipse cx="231.7" cy="347.6" rx="3.62" ry="1.73" transform="rotate(49.5 231.7 347.6)"/><ellipse cx="230.8" cy="354.5" rx="3.82" ry="1.83" transform="rotate(48.4 230.8 354.5)"/><ellipse cx="224.3" cy="348" rx="3.20" ry="1.53" transform="rotate(58.9 224.3 348)"/><ellipse cx="254.2" cy="319.2" rx="2.64" ry="1.26" transform="rotate(40.7 254.2 319.2)"/><ellipse cx="224.8" cy="354.7" rx="3.01" ry="1.44" transform="rotate(52.6 224.8 354.7)"/><ellipse cx="247.9" cy="326.4" rx="2.93" ry="1.40" transform="rotate(40.9 247.9 326.4)"/><ellipse cx="245.9" cy="333.8" rx="2.41" ry="1.15" transform="rotate(47 245.9 333.8)"/><ellipse cx="240.4" cy="331.8" rx="2.35" ry="1.12" transform="rotate(49.6 240.4 331.8)"/><ellipse cx="242.2" cy="338.7" rx="1.79" ry="0.86" transform="rotate(39.2 242.2 338.7)"/></g></g></g></defs>
<polygon points="2.3,356.8 86.6,313.9 260.2,328 208.9,377.6" fill="url(#gTop)"/><defs><clipPath id="cBT"><polygon points="2.3,356.8 86.6,313.9 260.2,328 208.9,377.6" /></clipPath></defs><g clip-path="url(#cBT)"><g stroke="#f2f2f2" stroke-width="0.9" opacity="0.85"><line x1="109.7" y1="314.8" x2="118.4" y2="326.6" /><line x1="118.4" y1="326.6" x2="63.3" y2="326.6" /><line x1="145.3" y1="318.6" x2="159.4" y2="333.6" /><line x1="159.4" y1="333.6" x2="147.6" y2="342" /><line x1="93.7" y1="336.6" x2="114.8" y2="343" /><line x1="114.8" y1="343" x2="147.6" y2="342" /><line x1="114.8" y1="343" x2="97.3" y2="348.4" /><line x1="97.3" y1="348.4" x2="110.1" y2="355.4" /><line x1="110.1" y1="355.4" x2="152.3" y2="356.6" /><line x1="159.4" y1="333.6" x2="194.5" y2="335.5" /><line x1="194.5" y1="335.5" x2="257.8" y2="328.9" /><line x1="180.5" y1="346.7" x2="199.2" y2="334.3" /><line x1="180.5" y1="346.7" x2="138.3" y2="368.3" /><line x1="147.6" y1="342" x2="180.5" y2="346.7" /><line x1="196.9" y1="337.8" x2="215.6" y2="341.3" /><line x1="215.6" y1="341.3" x2="246.1" y2="342.5" /><line x1="194.5" y1="322.6" x2="210.9" y2="328.4" /><line x1="138.3" y1="368.3" x2="136.6" y2="378.1" /><line x1="23.4" y1="346.7" x2="53.9" y2="345.3" /><line x1="189.8" y1="374.1" x2="218" y2="368.3" /></g><g stroke="#f2f2f2" stroke-width="0.8" stroke-dasharray="5 1.6" opacity="0.8"><line x1="118.4" y1="326.6" x2="93.7" y2="336.6" /><line x1="93.7" y1="336.6" x2="22.3" y2="358.4" /><line x1="121.9" y1="326.6" x2="154.7" y2="332.7" /><line x1="56.2" y1="330.3" x2="93.7" y2="336.6" /><line x1="53.9" y1="345.3" x2="97.3" y2="348.4" /><line x1="180.5" y1="346.7" x2="228.5" y2="357.7" /><line x1="152.3" y1="356.6" x2="210.9" y2="367.1" /><line x1="7" y1="357.7" x2="46.9" y2="361.2" /><line x1="46.9" y1="361.2" x2="110.1" y2="355.4" /><line x1="63.3" y1="363.1" x2="187.5" y2="374.1" /></g></g><line x1="2.3" y1="356.8" x2="208.9" y2="377.6" stroke="#dcdcdc" stroke-width="0.7" stroke-dasharray="5 2" opacity="0.7"/>
<use href="#blk"/>
<g transform="translate(437.6 0.4) scale(0.990 1.0026)"><use href="#blk"/><use href="#porW"/><use href="#porP"/></g>
<g transform="translate(893 2) scale(0.984 0.998)"><use href="#blk"/><use href="#porB"/><use href="#porP"/></g>
<polygon points="345.7,268 360.3,268 360.3,285 368.5,285 353,302 337.5,285 345.7,285" fill="#fff" stroke="#1f3864" stroke-width="1.7" stroke-linejoin="miter"/>
<polygon points="784.9,268 799.5,268 799.5,285.8 807.5,285.8 792.2,302.8 777,285.8 784.9,285.8" fill="#fff" stroke="#1f3864" stroke-width="1.7" stroke-linejoin="miter"/>
<text x="293.6" y="337.4" font-size="17" fill="#8dacd9" class="b" >PVDF solution</text>
<text x="708.5" y="337.2" font-size="17.1" fill="#2f5597" class="b" >Electrolyte precursor</text>
<path d="M14.6,-23.4 C8,-14.5 -3.4,-9.6 -7.2,-2.8 A7.8,7.8 0 1 0 7.4,2.4 C10,-4.4 12.2,-13.5 14.6,-23.4Z" transform="translate(322.3 367.6)" fill="url(#gDrop)"/>
<path d="M14.6,-23.4 C8,-14.5 -3.4,-9.6 -7.2,-2.8 A7.8,7.8 0 1 0 7.4,2.4 C10,-4.4 12.2,-13.5 14.6,-23.4Z" transform="translate(361.3 367.6)" fill="url(#gDrop)"/>
<path d="M14.6,-23.4 C8,-14.5 -3.4,-9.6 -7.2,-2.8 A7.8,7.8 0 1 0 7.4,2.4 C10,-4.4 12.2,-13.5 14.6,-23.4Z" transform="translate(759.2 367.6)" fill="url(#gDrop)"/>
<path d="M14.6,-23.4 C8,-14.5 -3.4,-9.6 -7.2,-2.8 A7.8,7.8 0 1 0 7.4,2.4 C10,-4.4 12.2,-13.5 14.6,-23.4Z" transform="translate(800.4 367.6)" fill="url(#gDrop)"/>
<polygon points="288.9,385.2 400.8,385.2 400.8,378.7 414.8,392.9 400.8,407.1 400.8,400.6 288.9,400.6" fill="url(#gArr)"/>
<polygon points="724,385.2 836.2,385.2 836.2,378.7 850.2,392.9 836.2,407.1 836.2,400.6 724,400.6" fill="url(#gArr)"/>
<text x="296.1" y="426" font-size="16.8" fill="#161616" class="b" >Phase</text>
<text x="296.1" y="446" font-size="16.8" fill="#161616" class="b" >separation</text>
<text x="725.8" y="426" font-size="16.8" fill="#161616" class="b" >In-situ</text>
<text x="725.8" y="446" font-size="16.9" fill="#161616" class="b" >polymerization</text>
<polygon points="1006.7,499 1047.7,499 1035.6,538.4 1043.4,538.4 1026.8,563 1010.7,538.4 1018.3,538.4" fill="url(#gDown)"/>
<g transform="translate(895.5 354.2) scale(0.967 0.956)"><use href="#blk"/><use href="#porB"/><use href="#porP"/></g>
<polygon points="893.8,627.8 977.7,586.1 1149.2,598.2 1102.8,648.7" fill="#cacaca"/>
<polygon points="893.8,627.8 1102.8,648.7 1100.1,668.9 894.3,648.7" fill="#bebebe"/>
<polygon points="1102.8,648.7 1149.2,598.2 1149.2,613.2 1100.1,668.9" fill="#b4b4b4"/>
<text x="932.5" y="650.6" font-size="18.8" class="b" fill="#8e8e8e" transform="rotate(4.1 932.5 650.6)">Lithium anode</text>
<path d="M799.3,651.2 L836.7,640.5 L836.7,646.3 C866,647 892,658 898.8,674.2 C888,664.5 866,657 836.7,656.1 L836.7,661.6Z" fill="url(#gCurve)"/>
<defs><clipPath id="cHX"><rect x="292.2" y="606.9" width="497.5" height="119.8"/></clipPath></defs>
<rect x="292.2" y="606.5" width="497.5" height="120.5" fill="#c6d4ed"/>
<path d="M269,606.9V624.8M269,659.2V677.1M269,711.5V729.4M283.3,633V651M283.3,685.4V703.2M269,624.8L283.3,633L297.6,624.8M269,659.2L283.3,651L297.6,659.2M269,677.1L283.3,685.4L297.6,677.1M269,711.5L283.3,703.2L297.6,711.5M297.6,606.9V624.8M297.6,659.2V677.1M297.6,711.5V729.4M311.9,633V651M311.9,685.4V703.2M297.6,624.8L311.9,633L326.2,624.8M297.6,659.2L311.9,651L326.2,659.2M297.6,677.1L311.9,685.4L326.2,677.1M297.6,711.5L311.9,703.2L326.2,711.5M326.2,606.9V624.8M326.2,659.2V677.1M326.2,711.5V729.4M340.5,633V651M340.5,685.4V703.2M326.2,624.8L340.5,633L354.8,624.8M326.2,659.2L340.5,651L354.8,659.2M326.2,677.1L340.5,685.4L354.8,677.1M326.2,711.5L340.5,703.2L354.8,711.5M354.8,606.9V624.8M354.8,659.2V677.1M354.8,711.5V729.4M369.1,633V651M369.1,685.4V703.2M354.8,624.8L369.1,633L383.4,624.8M354.8,659.2L369.1,651L383.4,659.2M354.8,677.1L369.1,685.4L383.4,677.1M354.8,711.5L369.1,703.2L383.4,711.5M383.4,606.9V624.8M383.4,659.2V677.1M383.4,711.5V729.4M397.8,633V651M397.8,685.4V703.2M383.4,624.8L397.8,633L412.1,624.8M383.4,659.2L397.8,651L412.1,659.2M383.4,677.1L397.8,685.4L412.1,677.1M383.4,711.5L397.8,703.2L412.1,711.5M412.1,606.9V624.8M412.1,659.2V677.1M412.1,711.5V729.4M426.4,633V651M426.4,685.4V703.2M412.1,624.8L426.4,633L440.7,624.8M412.1,659.2L426.4,651L440.7,659.2M412.1,677.1L426.4,685.4L440.7,677.1M412.1,711.5L426.4,703.2L440.7,711.5M440.7,606.9V624.8M440.7,659.2V677.1M440.7,711.5V729.4M455,633V651M455,685.4V703.2M440.7,624.8L455,633L469.3,624.8M440.7,659.2L455,651L469.3,659.2M440.7,677.1L455,685.4L469.3,677.1M440.7,711.5L455,703.2L469.3,711.5M469.3,606.9V624.8M469.3,659.2V677.1M469.3,711.5V729.4M483.6,633V651M483.6,685.4V703.2M469.3,624.8L483.6,633L497.9,624.8M469.3,659.2L483.6,651L497.9,659.2M469.3,677.1L483.6,685.4L497.9,677.1M469.3,711.5L483.6,703.2L497.9,711.5M497.9,606.9V624.8M497.9,659.2V677.1M497.9,711.5V729.4M512.2,633V651M512.2,685.4V703.2M497.9,624.8L512.2,633L526.5,624.8M497.9,659.2L512.2,651L526.5,659.2M497.9,677.1L512.2,685.4L526.5,677.1M497.9,711.5L512.2,703.2L526.5,711.5M526.5,606.9V624.8M526.5,659.2V677.1M526.5,711.5V729.4M540.8,633V651M540.8,685.4V703.2M526.5,624.8L540.8,633L555.2,624.8M526.5,659.2L540.8,651L555.2,659.2M526.5,677.1L540.8,685.4L555.2,677.1M526.5,711.5L540.8,703.2L555.2,711.5M555.2,606.9V624.8M555.2,659.2V677.1M555.2,711.5V729.4M569.5,633V651M569.5,685.4V703.2M555.2,624.8L569.5,633L583.8,624.8M555.2,659.2L569.5,651L583.8,659.2M555.2,677.1L569.5,685.4L583.8,677.1M555.2,711.5L569.5,703.2L583.8,711.5M583.8,606.9V624.8M583.8,659.2V677.1M583.8,711.5V729.4M598.1,633V651M598.1,685.4V703.2M583.8,624.8L598.1,633L612.4,624.8M583.8,659.2L598.1,651L612.4,659.2M583.8,677.1L598.1,685.4L612.4,677.1M583.8,711.5L598.1,703.2L612.4,711.5M612.4,606.9V624.8M612.4,659.2V677.1M612.4,711.5V729.4M626.7,633V651M626.7,685.4V703.2M612.4,624.8L626.7,633L641,624.8M612.4,659.2L626.7,651L641,659.2M612.4,677.1L626.7,685.4L641,677.1M612.4,711.5L626.7,703.2L641,711.5M641,606.9V624.8M641,659.2V677.1M641,711.5V729.4M655.3,633V651M655.3,685.4V703.2M641,624.8L655.3,633L669.6,624.8M641,659.2L655.3,651L669.6,659.2M641,677.1L655.3,685.4L669.6,677.1M641,711.5L655.3,703.2L669.6,711.5M669.6,606.9V624.8M669.6,659.2V677.1M669.6,711.5V729.4M683.9,633V651M683.9,685.4V703.2M669.6,624.8L683.9,633L698.3,624.8M669.6,659.2L683.9,651L698.3,659.2M669.6,677.1L683.9,685.4L698.3,677.1M669.6,711.5L683.9,703.2L698.3,711.5M698.3,606.9V624.8M698.3,659.2V677.1M698.3,711.5V729.4M712.6,633V651M712.6,685.4V703.2M698.3,624.8L712.6,633L726.9,624.8M698.3,659.2L712.6,651L726.9,659.2M698.3,677.1L712.6,685.4L726.9,677.1M698.3,711.5L712.6,703.2L726.9,711.5M726.9,606.9V624.8M726.9,659.2V677.1M726.9,711.5V729.4M741.2,633V651M741.2,685.4V703.2M726.9,624.8L741.2,633L755.5,624.8M726.9,659.2L741.2,651L755.5,659.2M726.9,677.1L741.2,685.4L755.5,677.1M726.9,711.5L741.2,703.2L755.5,711.5M755.5,606.9V624.8M755.5,659.2V677.1M755.5,711.5V729.4M769.8,633V651M769.8,685.4V703.2M755.5,624.8L769.8,633L784.1,624.8M755.5,659.2L769.8,651L784.1,659.2M755.5,677.1L769.8,685.4L784.1,677.1M755.5,711.5L769.8,703.2L784.1,711.5M784.1,606.9V624.8M784.1,659.2V677.1M784.1,711.5V729.4M798.4,633V651M798.4,685.4V703.2M784.1,624.8L798.4,633L812.7,624.8M784.1,659.2L798.4,651L812.7,659.2M784.1,677.1L798.4,685.4L812.7,677.1M784.1,711.5L798.4,703.2L812.7,711.5M812.7,606.9V624.8M812.7,659.2V677.1M812.7,711.5V729.4M827,633V651M827,685.4V703.2M812.7,624.8L827,633L841.4,624.8M812.7,659.2L827,651L841.4,659.2M812.7,677.1L827,685.4L841.4,677.1M812.7,711.5L827,703.2L841.4,711.5M841.4,606.9V624.8M841.4,659.2V677.1M841.4,711.5V729.4M855.7,633V651M855.7,685.4V703.2M841.4,624.8L855.7,633L870,624.8M841.4,659.2L855.7,651L870,659.2M841.4,677.1L855.7,685.4L870,677.1M841.4,711.5L855.7,703.2L870,711.5" fill="none" stroke="#87867a" stroke-width="1.85" clip-path="url(#cHX)"/>
<rect x="292.2" y="726.7" width="497.5" height="42.5" fill="#808080"/>
<defs><clipPath id="cLB"><rect x="292.2" y="726.7" width="497.5" height="42.5"/></clipPath></defs>
<g stroke="#fff" stroke-width="1.5" stroke-linecap="round" clip-path="url(#cLB)">
<line x1="305.9" y1="726.7" x2="338.6" y2="769.2" />
<line x1="374" y1="726.7" x2="378.6" y2="742" />
<line x1="378.6" y1="742" x2="338.6" y2="769.2" />
<line x1="378.6" y1="742" x2="406.7" y2="744.7" />
<line x1="406.7" y1="744.7" x2="440.7" y2="726.7" />
<line x1="406.7" y1="744.7" x2="423" y2="769.2" />
<line x1="440.7" y1="726.7" x2="466.6" y2="754" />
<line x1="466.6" y1="754" x2="491.1" y2="726.7" />
<line x1="466.6" y1="754" x2="468.5" y2="769.2" />
<line x1="491.1" y1="726.7" x2="518.4" y2="745.2" />
<line x1="518.4" y1="745.2" x2="510.2" y2="769.2" />
<line x1="518.4" y1="745.2" x2="551" y2="748" />
<line x1="572.7" y1="726.7" x2="550.9" y2="748" />
<line x1="550.9" y1="748" x2="560.4" y2="769.2" />
<line x1="602.7" y1="726.7" x2="613" y2="739.8" />
<line x1="613" y1="739.8" x2="593.1" y2="769.2" />
<line x1="613" y1="739.8" x2="643" y2="743.9" />
<line x1="643" y1="743.9" x2="662.6" y2="726.7" />
<line x1="643" y1="743.9" x2="659.9" y2="769.2" />
<line x1="707.5" y1="726.7" x2="718.4" y2="746.6" />
<line x1="718.4" y1="746.6" x2="757.9" y2="726.7" />
<line x1="718.4" y1="746.6" x2="691.2" y2="769.2" />
<line x1="718.4" y1="746.6" x2="742.9" y2="769.2" />
</g>
<rect x="325" y="605" width="47" height="6.9" fill="#5b5b5b"/>
<rect x="428.5" y="605" width="23.1" height="6.9" fill="#5b5b5b"/>
<rect x="503.9" y="605" width="15.3" height="6.9" fill="#5b5b5b"/>
<rect x="572.1" y="605" width="31.9" height="6.9" fill="#5b5b5b"/>
<rect x="649.5" y="605" width="21.3" height="6.9" fill="#5b5b5b"/>
<rect x="719.2" y="605" width="31.9" height="6.9" fill="#5b5b5b"/>
<rect x="292.2" y="578.5" width="497.5" height="28.4" fill="url(#gBar)"/>
<defs><linearGradient id="gBR" x1="0" y1="0" x2="1" y2="0"><stop offset="0" stop-color="#9c9c9c"/><stop offset="0.6" stop-color="#5a5a5a"/><stop offset="1" stop-color="#2c2c2c"/></linearGradient><linearGradient id="gBL" x1="0" y1="0" x2="1" y2="0"><stop offset="0" stop-color="#808080"/><stop offset="1" stop-color="#a2a2a2"/></linearGradient></defs>
<polygon points="292.2,578.5 302.7,591 302.7,596 292.2,606.9" fill="url(#gBL)"/>
<polygon points="789.7,578.5 778.3,588 778.7,602 789.7,606.9" fill="url(#gBR)"/>
<polygon points="298.2,625.1 303.9,626 307.7,635.6 313.3,615.5 315.1,616 308.4,640.2 306.3,640.2 301.5,628.4 298.5,627.3" fill="#8e3b10"/>
<circle cx="333.7" cy="629.5" r="10.9" fill="url(#gLi)"/><text x="333.4" y="634.3" font-size="13.2" class="b i" fill="#fff" text-anchor="middle">Li<tspan font-size="8.5" dy="-5">+</tspan></text>
<circle cx="368.5" cy="629.5" r="10.9" fill="url(#gLi)"/><text x="368.2" y="634.3" font-size="13.2" class="b i" fill="#fff" text-anchor="middle">Li<tspan font-size="8.5" dy="-5">+</tspan></text>
<circle cx="401.2" cy="629.5" r="10.9" fill="url(#gLi)"/><text x="400.9" y="634.3" font-size="13.2" class="b i" fill="#fff" text-anchor="middle">Li<tspan font-size="8.5" dy="-5">+</tspan></text>
<text x="529.3" y="620" font-size="17.6" fill="#6f6f6f" class="" >Li-Zn</text>
<text x="428.5" y="646.6" font-size="17.3" class="b" fill="#2b3a57" stroke="#2b3a57" stroke-width="0.9" lengthAdjust="spacingAndGlyphs" textLength="191.9">Uniform Li<tspan font-size="10.5" dy="-5.5">+</tspan><tspan dy="5.5"> deposition</tspan></text>
<text x="442.1" y="672.5" font-size="17.3" fill="#2b3a57" class="b" stroke="#2b3a57" stroke-width="0.9" lengthAdjust="spacingAndGlyphs" textLength="198.1">Dense interface contact</text>
<text x="456.5" y="698.9" font-size="17.2" fill="#2b3a57" class="b" stroke="#2b3a57" stroke-width="0.9" lengthAdjust="spacingAndGlyphs" textLength="197.4">Suppressed side effects</text>
<text x="652.5" y="722.9" font-size="20.5" class="b i" fill="#2f4f7f">Ti<tspan font-size="14" dy="-7.5">4+</tspan></text>
<text x="719.3" y="722.9" font-size="20.5" class="b i" fill="#2f4f7f">Ti<tspan font-size="14" dy="-7.5">3+</tspan></text>
<path d="M691.5,716.6 H706" stroke="#2f4f7f" stroke-width="2" fill="none"/>
<polygon points="712,716.6 704,712.4 704,720.8" fill="#2f4f7f"/>
<path d="M759.6,706.8 L776.2,722.8 M776.2,706.8 L759.6,722.8" stroke="#8b3a10" stroke-width="3" fill="none"/>
<g stroke="#7f6000" stroke-width="1.6" fill="none" stroke-linecap="butt">
<polygon points="217.9,599.4 231,606.6 231,621.1 217.9,628.4 204.8,621.1 204.8,606.6" />
<line x1="217.9" y1="599.4" x2="217.9" y2="593.2" />
<line x1="231" y1="606.6" x2="236.4" y2="603.6" />
<line x1="231" y1="621.1" x2="236.4" y2="624.2" />
<line x1="217.9" y1="628.4" x2="217.9" y2="634.6" />
<line x1="204.8" y1="621.1" x2="199.4" y2="624.2" />
<line x1="204.8" y1="606.6" x2="199.4" y2="603.6" />
</g>
<text x="148.6" y="648.8" font-size="15.1" fill="#0a0a0a" class="b" >Porous framework</text>
<rect x="194.1" y="697.6" width="42.8" height="43.3" fill="#c6d4ed"/>
<text x="154.8" y="758.9" font-size="15.1" fill="#0a0a0a" class="b" >In-situ filled GPE</text>
</svg>
</body></html>
